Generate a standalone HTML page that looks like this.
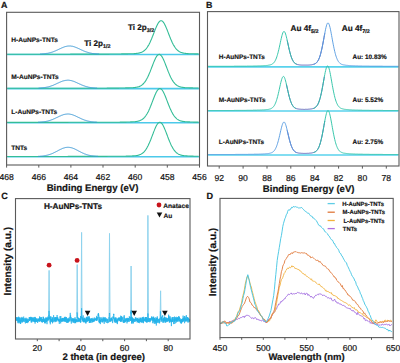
<!DOCTYPE html>
<html><head><meta charset="utf-8"><style>
html,body{margin:0;padding:0;background:#fff;}
svg{display:block;}
svg text{font-family:"Liberation Sans",sans-serif;stroke:#141414;stroke-width:0.2px;text-rendering:geometricPrecision;}
svg text.s{stroke-width:0.16px;}
</style></head><body>
<svg width="400" height="363" viewBox="0 0 400 363">
<rect width="400" height="363" fill="#fff"/>
<line x1="7.2" y1="54.5" x2="198.9" y2="54.5" stroke="#4cc9ea" stroke-width="1.6"/>
<polyline fill="none" stroke="#34bd97" stroke-width="1.1" points="7.1,54.2 7.6,54.2 8.1,54.2 8.6,54.2 9.1,54.2 9.6,54.2 10.1,54.2 10.6,54.2 11.1,54.2 11.6,54.2 12.1,54.2 12.6,54.2 13.1,54.2 13.6,54.2 14.1,54.2 14.6,54.2 15.1,54.2 15.6,54.2 16.1,54.2 16.6,54.2 17.1,54.2 17.6,54.2 18.1,54.2 18.6,54.2 19.1,54.2 19.6,54.2 20.1,54.2 20.6,54.2 21.1,54.2 21.6,54.2 22.1,54.2 22.6,54.2 23.1,54.2 23.6,54.2 24.1,54.2 24.6,54.2 25.1,54.2 25.6,54.2 26.1,54.2 26.6,54.2 27.1,54.2 27.6,54.2 28.1,54.2 28.6,54.2 29.1,54.2 29.6,54.2 30.1,54.2 30.6,54.2 31.1,54.2 31.6,54.2 32.1,54.2 32.6,54.2 33.1,54.2 33.6,54.2 34.1,54.2 34.6,54.2 35.1,54.2 35.6,54.2 36.1,54.2 36.6,54.2 37.1,54.2 37.6,54.2 38.1,54.2 38.6,54.2 39.1,54.2 39.6,54.2 40.1,54.2 40.6,54.2 41.1,54.2 41.6,54.2 42.1,54.2 42.6,54.2 43.1,54.2 43.6,54.2 44.1,54.2 44.6,54.2 45.1,54.2 45.6,54.2 46.1,54.2 46.6,54.2 47.1,54.2 47.6,54.2 48.1,54.2 48.6,54.2 49.1,54.2 49.6,54.2 50.1,54.2 50.6,54.2 51.1,54.2 51.6,54.2 52.1,54.2 52.6,54.2 53.1,54.2 53.6,54.2 54.1,54.2 54.6,54.2 55.1,54.2 55.6,54.2 56.1,54.2 56.6,54.2 57.1,54.2 57.6,54.2 58.1,54.2 58.6,54.2 59.1,54.2 59.6,54.2 60.1,54.2 60.6,54.2 61.1,54.2 61.6,54.2 62.1,54.2 62.6,54.2 63.1,54.2 63.6,54.2 64.1,54.2 64.6,54.2 65.1,54.2 65.6,54.2 66.1,54.2 66.6,54.2 67.1,54.2 67.6,54.2 68.1,54.2 68.6,54.2 69.1,54.2 69.6,54.2 70.1,54.2 70.6,54.1 71.1,54.1 71.6,54.1 72.1,54.1 72.6,54.1 73.1,54.1 73.6,54.1 74.1,54.1 74.6,54.1 75.1,54.1 75.6,54.1 76.1,54.1 76.6,54.1 77.1,54.1 77.6,54.1 78.1,54.1 78.6,54.1 79.1,54.1 79.6,54.1 80.1,54.1 80.6,54.1 81.1,54.1 81.6,54.1 82.1,54.1 82.6,54.1 83.1,54.1 83.6,54.1 84.1,54.1 84.6,54.1 85.1,54.1 85.6,54.1 86.1,54.1 86.6,54.1 87.1,54.1 87.6,54.1 88.1,54.1 88.6,54.1 89.1,54.1 89.6,54.1 90.1,54.1 90.6,54.1 91.1,54.1 91.6,54.1 92.1,54.1 92.6,54.1 93.1,54.1 93.6,54.1 94.1,54.1 94.6,54.1 95.1,54.1 95.6,54.1 96.1,54.1 96.6,54.1 97.1,54.1 97.6,54.1 98.1,54.1 98.6,54.1 99.1,54.1 99.6,54.1 100.1,54.1 100.6,54.1 101.1,54.1 101.6,54.1 102.1,54.1 102.6,54.1 103.1,54.1 103.6,54.1 104.1,54.1 104.6,54.1 105.1,54.1 105.6,54.1 106.1,54.1 106.6,54.1 107.1,54.1 107.6,54.1 108.1,54.1 108.6,54.1 109.1,54.1 109.6,54 110.1,54 110.6,54 111.1,54 111.6,54 112.1,54 112.6,54 113.1,54 113.6,54 114.1,54 114.6,54 115.1,54 115.6,54 116.1,54 116.6,54 117.1,54 117.6,54 118.1,54 118.6,54 119.1,54 119.6,54 120.1,54 120.6,54 121.1,54 121.6,53.9 122.1,53.9 122.6,53.9 123.1,53.9 123.6,53.9 124.1,53.9 124.6,53.9 125.1,53.9 125.6,53.9 126.1,53.9 126.6,53.9 127.1,53.9 127.6,53.9 128.1,53.8 128.6,53.8 129.1,53.8 129.6,53.8 130.1,53.8 130.6,53.8 131.1,53.8 131.6,53.7 132.1,53.7 132.6,53.7 133.1,53.7 133.6,53.7 134.1,53.6 134.6,53.6 135.1,53.6 135.6,53.5 136.1,53.5 136.6,53.4 137.1,53.4 137.6,53.3 138.1,53.2 138.6,53.1 139.1,53 139.6,52.9 140.1,52.8 140.6,52.6 141.1,52.4 141.6,52.2 142.1,52 142.6,51.7 143.1,51.5 143.6,51.1 144.1,50.7 144.6,50.3 145.1,49.9 145.6,49.3 146.1,48.8 146.6,48.2 147.1,47.5 147.6,46.7 148.1,45.9 148.6,45.1 149.1,44.2 149.6,43.2 150.1,42.2 150.6,41.1 151.1,39.9 151.6,38.8 152.1,37.5 152.6,36.3 153.1,35 153.6,33.7 154.1,32.4 154.6,31.1 155.1,29.8 155.6,28.6 156.1,27.4 156.6,26.3 157.1,25.2 157.6,24.2 158.1,23.3 158.6,22.6 159.1,21.9 159.6,21.4 160.1,21 160.6,20.8 161.1,20.7 161.6,20.8 162.1,21 162.6,21.4 163.1,21.9 163.6,22.6 164.1,23.3 164.6,24.2 165.1,25.2 165.6,26.3 166.1,27.4 166.6,28.6 167.1,29.8 167.6,31.1 168.1,32.4 168.6,33.7 169.1,35 169.6,36.3 170.1,37.5 170.6,38.8 171.1,39.9 171.6,41.1 172.1,42.2 172.6,43.2 173.1,44.2 173.6,45.1 174.1,45.9 174.6,46.7 175.1,47.5 175.6,48.2 176.1,48.8 176.6,49.3 177.1,49.9 177.6,50.3 178.1,50.7 178.6,51.1 179.1,51.5 179.6,51.7 180.1,52 180.6,52.2 181.1,52.4 181.6,52.6 182.1,52.8 182.6,52.9 183.1,53 183.6,53.1 184.1,53.2 184.6,53.3 185.1,53.4 185.6,53.4 186.1,53.5 186.6,53.5 187.1,53.6 187.6,53.6 188.1,53.6 188.6,53.7 189.1,53.7 189.6,53.7 190.1,53.7 190.6,53.7 191.1,53.8 191.6,53.8 192.1,53.8 192.6,53.8 193.1,53.8 193.6,53.8 194.1,53.8 194.6,53.9 195.1,53.9 195.6,53.9 196.1,53.9 196.6,53.9 197.1,53.9 197.6,53.9 198.1,53.9 198.6,53.9"/>
<polyline fill="none" stroke="#3d9ad6" stroke-width="1.0" points="40.1,54 40.6,54 41.1,54 41.6,54 42.1,53.9 42.6,53.9 43.1,53.9 43.6,53.8 44.1,53.8 44.6,53.7 45.1,53.6 45.6,53.6 46.1,53.5 46.6,53.4 47.1,53.4 47.6,53.3 48.1,53.2 48.6,53.1 49.1,53 49.6,52.8 50.1,52.7 50.6,52.6 51.1,52.4 51.6,52.3 52.1,52.1 52.6,52 53.1,51.8 53.6,51.6 54.1,51.4 54.6,51.2 55.1,51 55.6,50.8 56.1,50.6 56.6,50.3 57.1,50.1 57.6,49.9 58.1,49.7 58.6,49.4 59.1,49.2 59.6,48.9 60.1,48.7 60.6,48.5 61.1,48.2 61.6,48 62.1,47.8 62.6,47.6 63.1,47.4 63.6,47.2 64.1,47 64.6,46.8 65.1,46.7 65.6,46.5 66.1,46.4 66.6,46.3 67.1,46.2 67.6,46.1 68.1,46.1 68.6,46 69.1,46 69.6,46 70.1,46 70.6,46 71.1,46.1 71.6,46.2 72.1,46.2 72.6,46.3 73.1,46.5 73.6,46.6 74.1,46.8 74.6,46.9 75.1,47.1 75.6,47.3 76.1,47.5 76.6,47.7 77.1,47.9 77.6,48.1 78.1,48.3 78.6,48.6 79.1,48.8 79.6,49 80.1,49.3 80.6,49.5 81.1,49.7 81.6,50 82.1,50.2 82.6,50.4 83.1,50.7 83.6,50.9 84.1,51.1 84.6,51.3 85.1,51.5 85.6,51.7 86.1,51.8 86.6,52 87.1,52.2 87.6,52.3 88.1,52.5 88.6,52.6 89.1,52.8 89.6,52.9 90.1,53 90.6,53.1 91.1,53.2 91.6,53.3 92.1,53.4 92.6,53.5 93.1,53.5 93.6,53.6 94.1,53.7 94.6,53.7 95.1,53.8 95.6,53.8 96.1,53.9 96.6,53.9 97.1,53.9 97.6,54 98.1,54 98.6,54 99.1,54"/>
<line x1="7.2" y1="88.6" x2="198.9" y2="88.6" stroke="#4cc9ea" stroke-width="1.6"/>
<polyline fill="none" stroke="#34bd97" stroke-width="1.1" points="7.1,88.3 7.6,88.3 8.1,88.3 8.6,88.3 9.1,88.3 9.6,88.3 10.1,88.3 10.6,88.3 11.1,88.3 11.6,88.3 12.1,88.3 12.6,88.3 13.1,88.3 13.6,88.3 14.1,88.3 14.6,88.3 15.1,88.3 15.6,88.3 16.1,88.3 16.6,88.3 17.1,88.3 17.6,88.3 18.1,88.3 18.6,88.3 19.1,88.3 19.6,88.3 20.1,88.3 20.6,88.3 21.1,88.3 21.6,88.3 22.1,88.3 22.6,88.3 23.1,88.3 23.6,88.3 24.1,88.3 24.6,88.3 25.1,88.3 25.6,88.3 26.1,88.3 26.6,88.3 27.1,88.3 27.6,88.3 28.1,88.3 28.6,88.3 29.1,88.3 29.6,88.3 30.1,88.3 30.6,88.3 31.1,88.3 31.6,88.3 32.1,88.3 32.6,88.3 33.1,88.3 33.6,88.3 34.1,88.3 34.6,88.3 35.1,88.3 35.6,88.3 36.1,88.3 36.6,88.3 37.1,88.3 37.6,88.3 38.1,88.3 38.6,88.3 39.1,88.3 39.6,88.3 40.1,88.3 40.6,88.3 41.1,88.3 41.6,88.3 42.1,88.3 42.6,88.3 43.1,88.3 43.6,88.3 44.1,88.3 44.6,88.3 45.1,88.3 45.6,88.3 46.1,88.3 46.6,88.3 47.1,88.3 47.6,88.3 48.1,88.3 48.6,88.3 49.1,88.3 49.6,88.3 50.1,88.3 50.6,88.3 51.1,88.3 51.6,88.3 52.1,88.3 52.6,88.3 53.1,88.3 53.6,88.3 54.1,88.3 54.6,88.3 55.1,88.3 55.6,88.3 56.1,88.3 56.6,88.3 57.1,88.3 57.6,88.3 58.1,88.3 58.6,88.3 59.1,88.3 59.6,88.3 60.1,88.3 60.6,88.3 61.1,88.3 61.6,88.3 62.1,88.3 62.6,88.3 63.1,88.3 63.6,88.3 64.1,88.3 64.6,88.3 65.1,88.3 65.6,88.3 66.1,88.3 66.6,88.3 67.1,88.3 67.6,88.3 68.1,88.2 68.6,88.2 69.1,88.2 69.6,88.2 70.1,88.2 70.6,88.2 71.1,88.2 71.6,88.2 72.1,88.2 72.6,88.2 73.1,88.2 73.6,88.2 74.1,88.2 74.6,88.2 75.1,88.2 75.6,88.2 76.1,88.2 76.6,88.2 77.1,88.2 77.6,88.2 78.1,88.2 78.6,88.2 79.1,88.2 79.6,88.2 80.1,88.2 80.6,88.2 81.1,88.2 81.6,88.2 82.1,88.2 82.6,88.2 83.1,88.2 83.6,88.2 84.1,88.2 84.6,88.2 85.1,88.2 85.6,88.2 86.1,88.2 86.6,88.2 87.1,88.2 87.6,88.2 88.1,88.2 88.6,88.2 89.1,88.2 89.6,88.2 90.1,88.2 90.6,88.2 91.1,88.2 91.6,88.2 92.1,88.2 92.6,88.2 93.1,88.2 93.6,88.2 94.1,88.2 94.6,88.2 95.1,88.2 95.6,88.2 96.1,88.2 96.6,88.2 97.1,88.2 97.6,88.2 98.1,88.2 98.6,88.2 99.1,88.2 99.6,88.2 100.1,88.2 100.6,88.2 101.1,88.2 101.6,88.2 102.1,88.2 102.6,88.2 103.1,88.2 103.6,88.2 104.1,88.2 104.6,88.2 105.1,88.2 105.6,88.2 106.1,88.2 106.6,88.2 107.1,88.1 107.6,88.1 108.1,88.1 108.6,88.1 109.1,88.1 109.6,88.1 110.1,88.1 110.6,88.1 111.1,88.1 111.6,88.1 112.1,88.1 112.6,88.1 113.1,88.1 113.6,88.1 114.1,88.1 114.6,88.1 115.1,88.1 115.6,88.1 116.1,88.1 116.6,88.1 117.1,88.1 117.6,88.1 118.1,88.1 118.6,88.1 119.1,88 119.6,88 120.1,88 120.6,88 121.1,88 121.6,88 122.1,88 122.6,88 123.1,88 123.6,88 124.1,88 124.6,88 125.1,88 125.6,87.9 126.1,87.9 126.6,87.9 127.1,87.9 127.6,87.9 128.1,87.9 128.6,87.9 129.1,87.9 129.6,87.8 130.1,87.8 130.6,87.8 131.1,87.8 131.6,87.8 132.1,87.7 132.6,87.7 133.1,87.7 133.6,87.6 134.1,87.6 134.6,87.5 135.1,87.5 135.6,87.4 136.1,87.3 136.6,87.2 137.1,87.1 137.6,87 138.1,86.9 138.6,86.7 139.1,86.6 139.6,86.4 140.1,86.1 140.6,85.9 141.1,85.6 141.6,85.3 142.1,84.9 142.6,84.5 143.1,84 143.6,83.5 144.1,82.9 144.6,82.3 145.1,81.6 145.6,80.9 146.1,80.1 146.6,79.3 147.1,78.3 147.6,77.4 148.1,76.3 148.6,75.2 149.1,74.1 149.6,72.9 150.1,71.7 150.6,70.4 151.1,69.1 151.6,67.8 152.1,66.5 152.6,65.2 153.1,63.9 153.6,62.6 154.1,61.4 154.6,60.3 155.1,59.2 155.6,58.1 156.1,57.2 156.6,56.4 157.1,55.7 157.6,55.2 158.1,54.8 158.6,54.5 159.1,54.4 159.6,54.4 160.1,54.7 160.6,55 161.1,55.5 161.6,56.1 162.1,56.9 162.6,57.8 163.1,58.7 163.6,59.8 164.1,60.9 164.6,62.1 165.1,63.4 165.6,64.7 166.1,66 166.6,67.3 167.1,68.6 167.6,69.9 168.1,71.2 168.6,72.4 169.1,73.6 169.6,74.8 170.1,75.9 170.6,77 171.1,78 171.6,78.9 172.1,79.8 172.6,80.6 173.1,81.4 173.6,82.1 174.1,82.7 174.6,83.3 175.1,83.8 175.6,84.3 176.1,84.7 176.6,85.1 177.1,85.5 177.6,85.8 178.1,86 178.6,86.3 179.1,86.5 179.6,86.7 180.1,86.8 180.6,87 181.1,87.1 181.6,87.2 182.1,87.3 182.6,87.4 183.1,87.4 183.6,87.5 184.1,87.6 184.6,87.6 185.1,87.7 185.6,87.7 186.1,87.7 186.6,87.7 187.1,87.8 187.6,87.8 188.1,87.8 188.6,87.8 189.1,87.9 189.6,87.9 190.1,87.9 190.6,87.9 191.1,87.9 191.6,87.9 192.1,87.9 192.6,87.9 193.1,88 193.6,88 194.1,88 194.6,88 195.1,88 195.6,88 196.1,88 196.6,88 197.1,88 197.6,88 198.1,88 198.6,88"/>
<polyline fill="none" stroke="#3d9ad6" stroke-width="1.0" points="38.6,88.1 39.1,88.1 39.6,88.1 40.1,88.1 40.6,88 41.1,88 41.6,87.9 42.1,87.9 42.6,87.8 43.1,87.8 43.6,87.7 44.1,87.7 44.6,87.6 45.1,87.5 45.6,87.4 46.1,87.3 46.6,87.2 47.1,87.1 47.6,87 48.1,86.9 48.6,86.8 49.1,86.6 49.6,86.5 50.1,86.3 50.6,86.2 51.1,86 51.6,85.8 52.1,85.7 52.6,85.5 53.1,85.3 53.6,85.1 54.1,84.8 54.6,84.6 55.1,84.4 55.6,84.2 56.1,83.9 56.6,83.7 57.1,83.5 57.6,83.2 58.1,83 58.6,82.8 59.1,82.6 59.6,82.3 60.1,82.1 60.6,81.9 61.1,81.7 61.6,81.5 62.1,81.3 62.6,81.1 63.1,81 63.6,80.8 64.1,80.7 64.6,80.6 65.1,80.5 65.6,80.4 66.1,80.3 66.6,80.3 67.1,80.2 67.6,80.2 68.1,80.2 68.6,80.2 69.1,80.3 69.6,80.3 70.1,80.4 70.6,80.5 71.1,80.6 71.6,80.7 72.1,80.9 72.6,81 73.1,81.2 73.6,81.3 74.1,81.5 74.6,81.7 75.1,81.9 75.6,82.2 76.1,82.4 76.6,82.6 77.1,82.8 77.6,83.1 78.1,83.3 78.6,83.5 79.1,83.8 79.6,84 80.1,84.2 80.6,84.4 81.1,84.7 81.6,84.9 82.1,85.1 82.6,85.3 83.1,85.5 83.6,85.7 84.1,85.9 84.6,86 85.1,86.2 85.6,86.4 86.1,86.5 86.6,86.7 87.1,86.8 87.6,86.9 88.1,87.1 88.6,87.2 89.1,87.3 89.6,87.4 90.1,87.5 90.6,87.5 91.1,87.6 91.6,87.7 92.1,87.7 92.6,87.8 93.1,87.9 93.6,87.9 94.1,87.9 94.6,88 95.1,88 95.6,88.1 96.1,88.1 96.6,88.1 97.1,88.1"/>
<line x1="7.2" y1="122.7" x2="198.9" y2="122.7" stroke="#4cc9ea" stroke-width="1.6"/>
<polyline fill="none" stroke="#34bd97" stroke-width="1.1" points="7.1,122.4 7.6,122.4 8.1,122.4 8.6,122.4 9.1,122.4 9.6,122.4 10.1,122.4 10.6,122.4 11.1,122.4 11.6,122.4 12.1,122.4 12.6,122.4 13.1,122.4 13.6,122.4 14.1,122.4 14.6,122.4 15.1,122.4 15.6,122.4 16.1,122.4 16.6,122.4 17.1,122.4 17.6,122.4 18.1,122.4 18.6,122.4 19.1,122.4 19.6,122.4 20.1,122.4 20.6,122.4 21.1,122.4 21.6,122.4 22.1,122.4 22.6,122.4 23.1,122.4 23.6,122.4 24.1,122.4 24.6,122.4 25.1,122.4 25.6,122.4 26.1,122.4 26.6,122.4 27.1,122.4 27.6,122.4 28.1,122.4 28.6,122.4 29.1,122.4 29.6,122.4 30.1,122.4 30.6,122.4 31.1,122.4 31.6,122.4 32.1,122.4 32.6,122.4 33.1,122.4 33.6,122.4 34.1,122.4 34.6,122.4 35.1,122.4 35.6,122.4 36.1,122.4 36.6,122.4 37.1,122.4 37.6,122.4 38.1,122.4 38.6,122.4 39.1,122.4 39.6,122.4 40.1,122.4 40.6,122.4 41.1,122.4 41.6,122.4 42.1,122.4 42.6,122.4 43.1,122.4 43.6,122.4 44.1,122.4 44.6,122.4 45.1,122.4 45.6,122.4 46.1,122.4 46.6,122.4 47.1,122.4 47.6,122.4 48.1,122.4 48.6,122.4 49.1,122.4 49.6,122.4 50.1,122.4 50.6,122.4 51.1,122.4 51.6,122.4 52.1,122.4 52.6,122.4 53.1,122.4 53.6,122.4 54.1,122.4 54.6,122.4 55.1,122.4 55.6,122.4 56.1,122.4 56.6,122.4 57.1,122.4 57.6,122.4 58.1,122.4 58.6,122.4 59.1,122.4 59.6,122.4 60.1,122.4 60.6,122.4 61.1,122.4 61.6,122.4 62.1,122.4 62.6,122.4 63.1,122.4 63.6,122.4 64.1,122.4 64.6,122.4 65.1,122.4 65.6,122.4 66.1,122.4 66.6,122.4 67.1,122.4 67.6,122.4 68.1,122.4 68.6,122.3 69.1,122.3 69.6,122.3 70.1,122.3 70.6,122.3 71.1,122.3 71.6,122.3 72.1,122.3 72.6,122.3 73.1,122.3 73.6,122.3 74.1,122.3 74.6,122.3 75.1,122.3 75.6,122.3 76.1,122.3 76.6,122.3 77.1,122.3 77.6,122.3 78.1,122.3 78.6,122.3 79.1,122.3 79.6,122.3 80.1,122.3 80.6,122.3 81.1,122.3 81.6,122.3 82.1,122.3 82.6,122.3 83.1,122.3 83.6,122.3 84.1,122.3 84.6,122.3 85.1,122.3 85.6,122.3 86.1,122.3 86.6,122.3 87.1,122.3 87.6,122.3 88.1,122.3 88.6,122.3 89.1,122.3 89.6,122.3 90.1,122.3 90.6,122.3 91.1,122.3 91.6,122.3 92.1,122.3 92.6,122.3 93.1,122.3 93.6,122.3 94.1,122.3 94.6,122.3 95.1,122.3 95.6,122.3 96.1,122.3 96.6,122.3 97.1,122.3 97.6,122.3 98.1,122.3 98.6,122.3 99.1,122.3 99.6,122.3 100.1,122.3 100.6,122.3 101.1,122.3 101.6,122.3 102.1,122.3 102.6,122.3 103.1,122.3 103.6,122.3 104.1,122.3 104.6,122.3 105.1,122.3 105.6,122.3 106.1,122.3 106.6,122.3 107.1,122.3 107.6,122.2 108.1,122.2 108.6,122.2 109.1,122.2 109.6,122.2 110.1,122.2 110.6,122.2 111.1,122.2 111.6,122.2 112.1,122.2 112.6,122.2 113.1,122.2 113.6,122.2 114.1,122.2 114.6,122.2 115.1,122.2 115.6,122.2 116.1,122.2 116.6,122.2 117.1,122.2 117.6,122.2 118.1,122.2 118.6,122.2 119.1,122.2 119.6,122.2 120.1,122.1 120.6,122.1 121.1,122.1 121.6,122.1 122.1,122.1 122.6,122.1 123.1,122.1 123.6,122.1 124.1,122.1 124.6,122.1 125.1,122.1 125.6,122.1 126.1,122.1 126.6,122 127.1,122 127.6,122 128.1,122 128.6,122 129.1,122 129.6,122 130.1,122 130.6,121.9 131.1,121.9 131.6,121.9 132.1,121.9 132.6,121.8 133.1,121.8 133.6,121.8 134.1,121.7 134.6,121.7 135.1,121.7 135.6,121.6 136.1,121.5 136.6,121.5 137.1,121.4 137.6,121.3 138.1,121.2 138.6,121 139.1,120.9 139.6,120.7 140.1,120.5 140.6,120.3 141.1,120.1 141.6,119.8 142.1,119.5 142.6,119.1 143.1,118.7 143.6,118.3 144.1,117.8 144.6,117.3 145.1,116.7 145.6,116 146.1,115.3 146.6,114.5 147.1,113.7 147.6,112.8 148.1,111.9 148.6,110.9 149.1,109.8 149.6,108.7 150.1,107.5 150.6,106.3 151.1,105 151.6,103.7 152.1,102.4 152.6,101.1 153.1,99.8 153.6,98.5 154.1,97.2 154.6,96 155.1,94.8 155.6,93.7 156.1,92.6 156.6,91.7 157.1,90.8 157.6,90.1 158.1,89.5 158.6,89 159.1,88.7 159.6,88.5 160.1,88.5 160.6,88.7 161.1,88.9 161.6,89.4 162.1,90 162.6,90.7 163.1,91.5 163.6,92.4 164.1,93.5 164.6,94.6 165.1,95.8 165.6,97 166.1,98.3 166.6,99.6 167.1,100.9 167.6,102.2 168.1,103.5 168.6,104.8 169.1,106 169.6,107.3 170.1,108.4 170.6,109.6 171.1,110.6 171.6,111.7 172.1,112.6 172.6,113.5 173.1,114.4 173.6,115.2 174.1,115.9 174.6,116.5 175.1,117.2 175.6,117.7 176.1,118.2 176.6,118.7 177.1,119.1 177.6,119.4 178.1,119.7 178.6,120 179.1,120.3 179.6,120.5 180.1,120.7 180.6,120.9 181.1,121 181.6,121.1 182.1,121.3 182.6,121.4 183.1,121.4 183.6,121.5 184.1,121.6 184.6,121.6 185.1,121.7 185.6,121.7 186.1,121.8 186.6,121.8 187.1,121.8 187.6,121.9 188.1,121.9 188.6,121.9 189.1,121.9 189.6,121.9 190.1,122 190.6,122 191.1,122 191.6,122 192.1,122 192.6,122 193.1,122 193.6,122.1 194.1,122.1 194.6,122.1 195.1,122.1 195.6,122.1 196.1,122.1 196.6,122.1 197.1,122.1 197.6,122.1 198.1,122.1 198.6,122.1"/>
<polyline fill="none" stroke="#3d9ad6" stroke-width="1.0" points="38.1,122.2 38.6,122.2 39.1,122.2 39.6,122.2 40.1,122.1 40.6,122.1 41.1,122.1 41.6,122 42.1,122 42.6,121.9 43.1,121.9 43.6,121.8 44.1,121.7 44.6,121.7 45.1,121.6 45.6,121.5 46.1,121.4 46.6,121.3 47.1,121.2 47.6,121.1 48.1,121 48.6,120.8 49.1,120.7 49.6,120.5 50.1,120.4 50.6,120.2 51.1,120 51.6,119.8 52.1,119.7 52.6,119.5 53.1,119.2 53.6,119 54.1,118.8 54.6,118.6 55.1,118.4 55.6,118.1 56.1,117.9 56.6,117.6 57.1,117.4 57.6,117.2 58.1,116.9 58.6,116.7 59.1,116.4 59.6,116.2 60.1,116 60.6,115.8 61.1,115.5 61.6,115.3 62.1,115.2 62.6,115 63.1,114.8 63.6,114.6 64.1,114.5 64.6,114.4 65.1,114.3 65.6,114.2 66.1,114.1 66.6,114.1 67.1,114 67.6,114 68.1,114 68.6,114 69.1,114.1 69.6,114.1 70.1,114.2 70.6,114.3 71.1,114.4 71.6,114.5 72.1,114.7 72.6,114.8 73.1,115 73.6,115.2 74.1,115.4 74.6,115.6 75.1,115.8 75.6,116 76.1,116.3 76.6,116.5 77.1,116.7 77.6,117 78.1,117.2 78.6,117.5 79.1,117.7 79.6,117.9 80.1,118.2 80.6,118.4 81.1,118.6 81.6,118.9 82.1,119.1 82.6,119.3 83.1,119.5 83.6,119.7 84.1,119.9 84.6,120.1 85.1,120.2 85.6,120.4 86.1,120.6 86.6,120.7 87.1,120.8 87.6,121 88.1,121.1 88.6,121.2 89.1,121.3 89.6,121.4 90.1,121.5 90.6,121.6 91.1,121.7 91.6,121.8 92.1,121.8 92.6,121.9 93.1,121.9 93.6,122 94.1,122 94.6,122.1 95.1,122.1 95.6,122.1 96.1,122.2 96.6,122.2 97.1,122.2"/>
<line x1="7.2" y1="156.8" x2="198.9" y2="156.8" stroke="#4cc9ea" stroke-width="1.6"/>
<polyline fill="none" stroke="#34bd97" stroke-width="1.1" points="7.1,156.5 7.6,156.5 8.1,156.5 8.6,156.5 9.1,156.5 9.6,156.5 10.1,156.5 10.6,156.5 11.1,156.5 11.6,156.5 12.1,156.5 12.6,156.5 13.1,156.5 13.6,156.5 14.1,156.5 14.6,156.5 15.1,156.5 15.6,156.5 16.1,156.5 16.6,156.5 17.1,156.5 17.6,156.5 18.1,156.5 18.6,156.5 19.1,156.5 19.6,156.5 20.1,156.5 20.6,156.5 21.1,156.5 21.6,156.5 22.1,156.5 22.6,156.5 23.1,156.5 23.6,156.5 24.1,156.5 24.6,156.5 25.1,156.5 25.6,156.5 26.1,156.5 26.6,156.5 27.1,156.5 27.6,156.5 28.1,156.5 28.6,156.5 29.1,156.5 29.6,156.5 30.1,156.5 30.6,156.5 31.1,156.5 31.6,156.5 32.1,156.5 32.6,156.5 33.1,156.5 33.6,156.5 34.1,156.5 34.6,156.5 35.1,156.5 35.6,156.5 36.1,156.5 36.6,156.5 37.1,156.5 37.6,156.5 38.1,156.5 38.6,156.5 39.1,156.5 39.6,156.5 40.1,156.5 40.6,156.5 41.1,156.5 41.6,156.5 42.1,156.5 42.6,156.5 43.1,156.5 43.6,156.5 44.1,156.5 44.6,156.5 45.1,156.5 45.6,156.5 46.1,156.5 46.6,156.5 47.1,156.5 47.6,156.5 48.1,156.5 48.6,156.5 49.1,156.5 49.6,156.5 50.1,156.5 50.6,156.5 51.1,156.5 51.6,156.5 52.1,156.5 52.6,156.5 53.1,156.5 53.6,156.5 54.1,156.5 54.6,156.5 55.1,156.5 55.6,156.5 56.1,156.5 56.6,156.5 57.1,156.5 57.6,156.5 58.1,156.5 58.6,156.5 59.1,156.5 59.6,156.5 60.1,156.5 60.6,156.5 61.1,156.5 61.6,156.5 62.1,156.5 62.6,156.5 63.1,156.5 63.6,156.5 64.1,156.5 64.6,156.5 65.1,156.5 65.6,156.5 66.1,156.5 66.6,156.5 67.1,156.5 67.6,156.5 68.1,156.4 68.6,156.4 69.1,156.4 69.6,156.4 70.1,156.4 70.6,156.4 71.1,156.4 71.6,156.4 72.1,156.4 72.6,156.4 73.1,156.4 73.6,156.4 74.1,156.4 74.6,156.4 75.1,156.4 75.6,156.4 76.1,156.4 76.6,156.4 77.1,156.4 77.6,156.4 78.1,156.4 78.6,156.4 79.1,156.4 79.6,156.4 80.1,156.4 80.6,156.4 81.1,156.4 81.6,156.4 82.1,156.4 82.6,156.4 83.1,156.4 83.6,156.4 84.1,156.4 84.6,156.4 85.1,156.4 85.6,156.4 86.1,156.4 86.6,156.4 87.1,156.4 87.6,156.4 88.1,156.4 88.6,156.4 89.1,156.4 89.6,156.4 90.1,156.4 90.6,156.4 91.1,156.4 91.6,156.4 92.1,156.4 92.6,156.4 93.1,156.4 93.6,156.4 94.1,156.4 94.6,156.4 95.1,156.4 95.6,156.4 96.1,156.4 96.6,156.4 97.1,156.4 97.6,156.4 98.1,156.4 98.6,156.4 99.1,156.4 99.6,156.4 100.1,156.4 100.6,156.4 101.1,156.4 101.6,156.4 102.1,156.4 102.6,156.4 103.1,156.4 103.6,156.4 104.1,156.4 104.6,156.4 105.1,156.4 105.6,156.4 106.1,156.4 106.6,156.4 107.1,156.4 107.6,156.3 108.1,156.3 108.6,156.3 109.1,156.3 109.6,156.3 110.1,156.3 110.6,156.3 111.1,156.3 111.6,156.3 112.1,156.3 112.6,156.3 113.1,156.3 113.6,156.3 114.1,156.3 114.6,156.3 115.1,156.3 115.6,156.3 116.1,156.3 116.6,156.3 117.1,156.3 117.6,156.3 118.1,156.3 118.6,156.3 119.1,156.3 119.6,156.2 120.1,156.2 120.6,156.2 121.1,156.2 121.6,156.2 122.1,156.2 122.6,156.2 123.1,156.2 123.6,156.2 124.1,156.2 124.6,156.2 125.1,156.2 125.6,156.2 126.1,156.1 126.6,156.1 127.1,156.1 127.6,156.1 128.1,156.1 128.6,156.1 129.1,156.1 129.6,156.1 130.1,156 130.6,156 131.1,156 131.6,156 132.1,156 132.6,155.9 133.1,155.9 133.6,155.9 134.1,155.8 134.6,155.8 135.1,155.7 135.6,155.7 136.1,155.6 136.6,155.5 137.1,155.5 137.6,155.4 138.1,155.2 138.6,155.1 139.1,155 139.6,154.8 140.1,154.6 140.6,154.4 141.1,154.1 141.6,153.8 142.1,153.5 142.6,153.1 143.1,152.7 143.6,152.3 144.1,151.8 144.6,151.2 145.1,150.6 145.6,149.9 146.1,149.2 146.6,148.4 147.1,147.6 147.6,146.6 148.1,145.7 148.6,144.6 149.1,143.6 149.6,142.4 150.1,141.2 150.6,140 151.1,138.7 151.6,137.4 152.1,136.1 152.6,134.8 153.1,133.5 153.6,132.1 154.1,130.9 154.6,129.6 155.1,128.4 155.6,127.3 156.1,126.3 156.6,125.3 157.1,124.5 157.6,123.8 158.1,123.2 158.6,122.7 159.1,122.5 159.6,122.3 160.1,122.3 160.6,122.5 161.1,122.8 161.6,123.3 162.1,123.9 162.6,124.6 163.1,125.5 163.6,126.5 164.1,127.5 164.6,128.7 165.1,129.9 165.6,131.1 166.1,132.4 166.6,133.7 167.1,135 167.6,136.4 168.1,137.7 168.6,139 169.1,140.2 169.6,141.5 170.1,142.6 170.6,143.8 171.1,144.9 171.6,145.9 172.1,146.8 172.6,147.7 173.1,148.6 173.6,149.3 174.1,150.1 174.6,150.7 175.1,151.3 175.6,151.9 176.1,152.4 176.6,152.8 177.1,153.2 177.6,153.6 178.1,153.9 178.6,154.2 179.1,154.4 179.6,154.6 180.1,154.8 180.6,155 181.1,155.1 181.6,155.3 182.1,155.4 182.6,155.5 183.1,155.6 183.6,155.6 184.1,155.7 184.6,155.7 185.1,155.8 185.6,155.8 186.1,155.9 186.6,155.9 187.1,155.9 187.6,156 188.1,156 188.6,156 189.1,156 189.6,156 190.1,156.1 190.6,156.1 191.1,156.1 191.6,156.1 192.1,156.1 192.6,156.1 193.1,156.1 193.6,156.2 194.1,156.2 194.6,156.2 195.1,156.2 195.6,156.2 196.1,156.2 196.6,156.2 197.1,156.2 197.6,156.2 198.1,156.2 198.6,156.2"/>
<polyline fill="none" stroke="#3d9ad6" stroke-width="1.0" points="38.1,156.3 38.6,156.3 39.1,156.3 39.6,156.3 40.1,156.2 40.6,156.2 41.1,156.2 41.6,156.1 42.1,156.1 42.6,156 43.1,155.9 43.6,155.9 44.1,155.8 44.6,155.7 45.1,155.6 45.6,155.6 46.1,155.5 46.6,155.3 47.1,155.2 47.6,155.1 48.1,155 48.6,154.8 49.1,154.7 49.6,154.5 50.1,154.3 50.6,154.2 51.1,154 51.6,153.8 52.1,153.6 52.6,153.4 53.1,153.1 53.6,152.9 54.1,152.7 54.6,152.4 55.1,152.2 55.6,151.9 56.1,151.7 56.6,151.4 57.1,151.1 57.6,150.9 58.1,150.6 58.6,150.3 59.1,150.1 59.6,149.8 60.1,149.6 60.6,149.3 61.1,149.1 61.6,148.9 62.1,148.6 62.6,148.4 63.1,148.2 63.6,148.1 64.1,147.9 64.6,147.8 65.1,147.6 65.6,147.5 66.1,147.4 66.6,147.4 67.1,147.3 67.6,147.3 68.1,147.3 68.6,147.3 69.1,147.4 69.6,147.4 70.1,147.5 70.6,147.6 71.1,147.7 71.6,147.8 72.1,148 72.6,148.1 73.1,148.3 73.6,148.5 74.1,148.7 74.6,148.9 75.1,149.2 75.6,149.4 76.1,149.7 76.6,149.9 77.1,150.2 77.6,150.4 78.1,150.7 78.6,151 79.1,151.2 79.6,151.5 80.1,151.8 80.6,152 81.1,152.3 81.6,152.5 82.1,152.8 82.6,153 83.1,153.2 83.6,153.4 84.1,153.7 84.6,153.9 85.1,154.1 85.6,154.2 86.1,154.4 86.6,154.6 87.1,154.7 87.6,154.9 88.1,155 88.6,155.2 89.1,155.3 89.6,155.4 90.1,155.5 90.6,155.6 91.1,155.7 91.6,155.8 92.1,155.8 92.6,155.9 93.1,156 93.6,156 94.1,156.1 94.6,156.1 95.1,156.2 95.6,156.2 96.1,156.2 96.6,156.3 97.1,156.3 97.6,156.3 98.1,156.3"/>
<rect x="6.6" y="12.3" width="192.9" height="152.7" fill="none" stroke="#5a5a5a" stroke-width="1.1"/>
<line x1="6.6" y1="165" x2="6.6" y2="167.6" stroke="#5a5a5a" stroke-width="1"/>
<text x="6.6" y="179.8" font-size="8.6" text-anchor="middle" fill="#141414">468</text>
<line x1="38.8" y1="165" x2="38.8" y2="167.6" stroke="#5a5a5a" stroke-width="1"/>
<text x="38.8" y="179.8" font-size="8.6" text-anchor="middle" fill="#141414">466</text>
<line x1="70.9" y1="165" x2="70.9" y2="167.6" stroke="#5a5a5a" stroke-width="1"/>
<text x="70.9" y="179.8" font-size="8.6" text-anchor="middle" fill="#141414">464</text>
<line x1="103" y1="165" x2="103" y2="167.6" stroke="#5a5a5a" stroke-width="1"/>
<text x="103" y="179.8" font-size="8.6" text-anchor="middle" fill="#141414">462</text>
<line x1="135.2" y1="165" x2="135.2" y2="167.6" stroke="#5a5a5a" stroke-width="1"/>
<text x="135.2" y="179.8" font-size="8.6" text-anchor="middle" fill="#141414">460</text>
<line x1="167.3" y1="165" x2="167.3" y2="167.6" stroke="#5a5a5a" stroke-width="1"/>
<text x="167.3" y="179.8" font-size="8.6" text-anchor="middle" fill="#141414">458</text>
<line x1="199.5" y1="165" x2="199.5" y2="167.6" stroke="#5a5a5a" stroke-width="1"/>
<text x="199.5" y="179.8" font-size="8.6" text-anchor="middle" fill="#141414">456</text>
<text x="92.5" y="191" font-size="9.6" font-weight="bold" text-anchor="middle" fill="#141414">Binding Energy (eV)</text>
<text x="11.2" y="42.2" class="s" font-size="6.6" font-weight="bold" fill="#141414">H-AuNPs-TNTs</text>
<text x="11.2" y="78.8" class="s" font-size="6.6" font-weight="bold" fill="#141414">M-AuNPs-TNTs</text>
<text x="11.2" y="113.8" class="s" font-size="6.6" font-weight="bold" fill="#141414">L-AuNPs-TNTs</text>
<text x="11.2" y="150" class="s" font-size="6.6" font-weight="bold" fill="#141414">TNTs</text>
<text x="128" y="30.1" font-size="8.1" font-weight="bold" fill="#141414">Ti 2p<tspan font-size="5.4" dy="1.5">3/2</tspan></text>
<text x="84.3" y="46.2" font-size="8.1" font-weight="bold" fill="#141414">Ti 2p<tspan font-size="5.4" dy="1.5">1/2</tspan></text>
<text x="1.1" y="7.7" font-size="8.9" font-weight="bold" fill="#141414">A</text>
<line x1="208.1" y1="66.8" x2="398.4" y2="66.8" stroke="#58d2ec" stroke-width="1.7"/>
<polyline fill="none" stroke="#5a62b8" stroke-width="1.0" points="287.2,40.4 287.6,42.2 288,44.1 288.4,45.9 288.8,47.7 289.2,49.5 289.6,51.1 290,52.7 290.4,54.2 290.8,55.5 291.2,56.7 291.6,57.9 292,58.8 292.4,59.7 292.8,60.5 293.2,61.2 293.6,61.8 294,62.3 294.4,62.8 294.8,63.1 295.2,63.5 295.6,63.7 296,63.9 296.4,64.1 296.8,64.3 297.2,64.4 297.6,64.6 298,64.6 298.4,64.7 298.8,64.8 299.2,64.9 299.6,64.9 300,64.9 300.4,65 300.8,65 301.2,65 301.6,65.1 302,65.1 302.4,65.1 302.8,65.1 303.2,65.1 303.6,65.1 304,65.1 304.4,65.1 304.8,65.1 305.2,65.1 305.6,65.1 306,65.1 306.4,65.1 306.8,65.1 307.2,65.1 307.6,65.1 308,65.1 308.4,65.1 308.8,65 309.2,65 309.6,65 310,64.9 310.4,64.9 310.8,64.9 311.2,64.8 311.6,64.8 312,64.7 312.4,64.6 312.8,64.5 313.2,64.4 313.6,64.3 314,64.2 314.4,64 314.8,63.9 315.2,63.7 315.6,63.4 316,63.1 316.4,62.8 316.8,62.4 317.2,61.9 317.6,61.3 318,60.7 318.4,60 318.8,59.2 319.2,58.2 319.6,57.2 320,56 320.4,54.7 320.8,53.2 321.2,51.6 321.6,49.9 322,48.1 322.4,46.2 322.8,44.1 323.2,42 323.6,39.8 324,37.6 324.4,35.4 324.8,33.3"/>
<polyline fill="none" stroke="#2fc4a8" stroke-width="0.95" points="208,66.3 208.4,66.3 208.8,66.3 209.2,66.3 209.6,66.3 210,66.3 210.4,66.3 210.8,66.3 211.2,66.3 211.6,66.3 212,66.3 212.4,66.3 212.8,66.3 213.2,66.3 213.6,66.3 214,66.3 214.4,66.3 214.8,66.3 215.2,66.3 215.6,66.3 216,66.3 216.4,66.3 216.8,66.3 217.2,66.3 217.6,66.3 218,66.3 218.4,66.3 218.8,66.3 219.2,66.3 219.6,66.3 220,66.3 220.4,66.3 220.8,66.3 221.2,66.3 221.6,66.3 222,66.3 222.4,66.3 222.8,66.3 223.2,66.3 223.6,66.3 224,66.3 224.4,66.3 224.8,66.3 225.2,66.3 225.6,66.3 226,66.3 226.4,66.3 226.8,66.3 227.2,66.3 227.6,66.3 228,66.3 228.4,66.3 228.8,66.3 229.2,66.3 229.6,66.3 230,66.3 230.4,66.3 230.8,66.3 231.2,66.3 231.6,66.3 232,66.3 232.4,66.3 232.8,66.3 233.2,66.3 233.6,66.3 234,66.3 234.4,66.2 234.8,66.2 235.2,66.2 235.6,66.2 236,66.2 236.4,66.2 236.8,66.2 237.2,66.2 237.6,66.2 238,66.2 238.4,66.2 238.8,66.2 239.2,66.2 239.6,66.2 240,66.2 240.4,66.2 240.8,66.2 241.2,66.2 241.6,66.2 242,66.2 242.4,66.2 242.8,66.2 243.2,66.2 243.6,66.2 244,66.2 244.4,66.2 244.8,66.2 245.2,66.2 245.6,66.2 246,66.2 246.4,66.2 246.8,66.2 247.2,66.1 247.6,66.1 248,66.1 248.4,66.1 248.8,66.1 249.2,66.1 249.6,66.1 250,66.1 250.4,66.1 250.8,66.1 251.2,66.1 251.6,66.1 252,66.1 252.4,66.1 252.8,66.1 253.2,66.1 253.6,66 254,66 254.4,66 254.8,66 255.2,66 255.6,66 256,66 256.4,66 256.8,66 257.2,66 257.6,65.9 258,65.9 258.4,65.9 258.8,65.9 259.2,65.9 259.6,65.9 260,65.9 260.4,65.9 260.8,65.8 261.2,65.8 261.6,65.8 262,65.8 262.4,65.8 262.8,65.7 263.2,65.7 263.6,65.7 264,65.7 264.4,65.6 264.8,65.6 265.2,65.6 265.6,65.6 266,65.5 266.4,65.5 266.8,65.4 267.2,65.4 267.6,65.4 268,65.3 268.4,65.2 268.8,65.2 269.2,65.1 269.6,65 270,64.9 270.4,64.8 270.8,64.7 271.2,64.6 271.6,64.4 272,64.2 272.4,63.9 272.8,63.7 273.2,63.3 273.6,63 274,62.5 274.4,62 274.8,61.4 275.2,60.7 275.6,59.9 276,59 276.4,58 276.8,56.9 277.2,55.6 277.6,54.3 278,52.8 278.4,51.2 278.8,49.6 279.2,47.8 279.6,46 280,44.2 280.4,42.3 280.8,40.4 281.2,38.7 281.6,37 282,35.4 282.4,34.1 282.8,32.9 283.2,32.1 283.6,31.6 284,31.4 284.4,31.6 284.8,32.1 285.2,32.9 285.6,34 286,35.4 286.4,36.9 286.8,38.6 287.2,40.4 287.6,42.2 288,44.1 288.4,45.9 288.8,47.7 289.2,49.5 289.6,51.1 290,52.7 290.4,54.2 290.8,55.5 291.2,56.7 291.6,57.9 292,58.8 292.4,59.7 292.8,60.5 293.2,61.2 293.6,61.8 294,62.3 294.4,62.8 294.8,63.1 295.2,63.5 295.6,63.7 296,63.9 296.4,64.1 296.8,64.3"/>
<polyline fill="none" stroke="#5a9de2" stroke-width="0.95" points="313.6,64.3 314,64.2 314.4,64 314.8,63.9 315.2,63.7 315.6,63.4 316,63.1 316.4,62.8 316.8,62.4 317.2,61.9 317.6,61.3 318,60.7 318.4,60 318.8,59.2 319.2,58.2 319.6,57.2 320,56 320.4,54.7 320.8,53.2 321.2,51.6 321.6,49.9 322,48.1 322.4,46.2 322.8,44.1 323.2,42 323.6,39.8 324,37.6 324.4,35.4 324.8,33.3 325.2,31.2 325.6,29.2 326,27.4 326.4,25.9 326.8,24.6 327.2,23.6 327.6,23.1 328,22.9 328.4,23.1 328.8,23.7 329.2,24.6 329.6,25.9 330,27.4 330.4,29.2 330.8,31.2 331.2,33.3 331.6,35.5 332,37.7 332.4,39.9 332.8,42.1 333.2,44.2 333.6,46.2 334,48.2 334.4,50 334.8,51.7 335.2,53.3 335.6,54.8 336,56.1 336.4,57.3 336.8,58.3 337.2,59.3 337.6,60.1 338,60.8 338.4,61.5 338.8,62 339.2,62.5 339.6,62.9 340,63.3 340.4,63.6 340.8,63.8 341.2,64.1 341.6,64.3 342,64.4 342.4,64.6 342.8,64.7 343.2,64.8 343.6,64.9 344,65 344.4,65 344.8,65.1 345.2,65.2 345.6,65.2 346,65.3 346.4,65.3 346.8,65.4 347.2,65.4 347.6,65.4 348,65.5 348.4,65.5 348.8,65.5 349.2,65.6 349.6,65.6 350,65.6 350.4,65.6 350.8,65.7 351.2,65.7 351.6,65.7 352,65.7 352.4,65.7 352.8,65.8 353.2,65.8 353.6,65.8 354,65.8 354.4,65.8 354.8,65.8 355.2,65.9 355.6,65.9 356,65.9 356.4,65.9 356.8,65.9 357.2,65.9 357.6,65.9 358,66 358.4,66 358.8,66 359.2,66 359.6,66 360,66 360.4,66 360.8,66 361.2,66 361.6,66 362,66 362.4,66.1 362.8,66.1 363.2,66.1 363.6,66.1 364,66.1 364.4,66.1 364.8,66.1 365.2,66.1 365.6,66.1 366,66.1 366.4,66.1 366.8,66.1 367.2,66.1 367.6,66.1 368,66.1 368.4,66.1 368.8,66.1 369.2,66.1 369.6,66.2 370,66.2 370.4,66.2 370.8,66.2 371.2,66.2 371.6,66.2 372,66.2 372.4,66.2 372.8,66.2 373.2,66.2 373.6,66.2 374,66.2 374.4,66.2 374.8,66.2 375.2,66.2 375.6,66.2 376,66.2 376.4,66.2 376.8,66.2 377.2,66.2 377.6,66.2 378,66.2 378.4,66.2 378.8,66.2 379.2,66.2 379.6,66.2 380,66.2 380.4,66.2 380.8,66.2 381.2,66.2 381.6,66.2 382,66.2 382.4,66.2 382.8,66.3 383.2,66.3 383.6,66.3 384,66.3 384.4,66.3 384.8,66.3 385.2,66.3 385.6,66.3 386,66.3 386.4,66.3 386.8,66.3 387.2,66.3 387.6,66.3 388,66.3 388.4,66.3 388.8,66.3 389.2,66.3 389.6,66.3 390,66.3 390.4,66.3 390.8,66.3 391.2,66.3 391.6,66.3 392,66.3 392.4,66.3 392.8,66.3 393.2,66.3 393.6,66.3 394,66.3 394.4,66.3 394.8,66.3 395.2,66.3 395.6,66.3 396,66.3 396.4,66.3 396.8,66.3 397.2,66.3 397.6,66.3 398,66.3 398.4,66.3"/>
<line x1="208.1" y1="111" x2="398.4" y2="111" stroke="#58d2ec" stroke-width="1.7"/>
<polyline fill="none" stroke="#5a62b8" stroke-width="1.0" points="286.4,84.3 286.8,86.1 287.2,87.9 287.6,89.7 288,91.5 288.4,93.2 288.8,94.9 289.2,96.5 289.6,97.9 290,99.3 290.4,100.6 290.8,101.7 291.2,102.7 291.6,103.7 292,104.5 292.4,105.2 292.8,105.8 293.2,106.4 293.6,106.8 294,107.2 294.4,107.6 294.8,107.8 295.2,108.1 295.6,108.3 296,108.5 296.4,108.6 296.8,108.7 297.2,108.8 297.6,108.9 298,109 298.4,109 298.8,109.1 299.2,109.1 299.6,109.2 300,109.2 300.4,109.2 300.8,109.3 301.2,109.3 301.6,109.3 302,109.3 302.4,109.3 302.8,109.3 303.2,109.3 303.6,109.4 304,109.4 304.4,109.4 304.8,109.4 305.2,109.3 305.6,109.3 306,109.3 306.4,109.3 306.8,109.3 307.2,109.3 307.6,109.3 308,109.2 308.4,109.2 308.8,109.2 309.2,109.2 309.6,109.1 310,109.1 310.4,109 310.8,109 311.2,108.9 311.6,108.9 312,108.8 312.4,108.7 312.8,108.6 313.2,108.5 313.6,108.4 314,108.2 314.4,108 314.8,107.8 315.2,107.5 315.6,107.2 316,106.9 316.4,106.5 316.8,106 317.2,105.4 317.6,104.8 318,104 318.4,103.2 318.8,102.2 319.2,101.1 319.6,99.9 320,98.5 320.4,97.1 320.8,95.4 321.2,93.7 321.6,91.8 322,89.8 322.4,87.7 322.8,85.5 323.2,83.3 323.6,81 324,78.8 324.4,76.5"/>
<polyline fill="none" stroke="#2fc4a8" stroke-width="0.95" points="208,110.5 208.4,110.5 208.8,110.5 209.2,110.5 209.6,110.5 210,110.5 210.4,110.5 210.8,110.5 211.2,110.5 211.6,110.5 212,110.5 212.4,110.5 212.8,110.5 213.2,110.5 213.6,110.5 214,110.5 214.4,110.5 214.8,110.5 215.2,110.5 215.6,110.5 216,110.5 216.4,110.5 216.8,110.5 217.2,110.5 217.6,110.5 218,110.5 218.4,110.5 218.8,110.5 219.2,110.5 219.6,110.5 220,110.5 220.4,110.5 220.8,110.5 221.2,110.5 221.6,110.5 222,110.5 222.4,110.5 222.8,110.5 223.2,110.5 223.6,110.5 224,110.5 224.4,110.5 224.8,110.5 225.2,110.5 225.6,110.5 226,110.5 226.4,110.5 226.8,110.5 227.2,110.5 227.6,110.5 228,110.5 228.4,110.5 228.8,110.5 229.2,110.5 229.6,110.5 230,110.5 230.4,110.5 230.8,110.5 231.2,110.5 231.6,110.5 232,110.5 232.4,110.5 232.8,110.5 233.2,110.5 233.6,110.5 234,110.4 234.4,110.4 234.8,110.4 235.2,110.4 235.6,110.4 236,110.4 236.4,110.4 236.8,110.4 237.2,110.4 237.6,110.4 238,110.4 238.4,110.4 238.8,110.4 239.2,110.4 239.6,110.4 240,110.4 240.4,110.4 240.8,110.4 241.2,110.4 241.6,110.4 242,110.4 242.4,110.4 242.8,110.4 243.2,110.4 243.6,110.4 244,110.4 244.4,110.4 244.8,110.4 245.2,110.4 245.6,110.4 246,110.4 246.4,110.4 246.8,110.3 247.2,110.3 247.6,110.3 248,110.3 248.4,110.3 248.8,110.3 249.2,110.3 249.6,110.3 250,110.3 250.4,110.3 250.8,110.3 251.2,110.3 251.6,110.3 252,110.3 252.4,110.3 252.8,110.3 253.2,110.2 253.6,110.2 254,110.2 254.4,110.2 254.8,110.2 255.2,110.2 255.6,110.2 256,110.2 256.4,110.2 256.8,110.2 257.2,110.1 257.6,110.1 258,110.1 258.4,110.1 258.8,110.1 259.2,110.1 259.6,110.1 260,110.1 260.4,110 260.8,110 261.2,110 261.6,110 262,110 262.4,109.9 262.8,109.9 263.2,109.9 263.6,109.9 264,109.8 264.4,109.8 264.8,109.8 265.2,109.8 265.6,109.7 266,109.7 266.4,109.6 266.8,109.6 267.2,109.6 267.6,109.5 268,109.4 268.4,109.4 268.8,109.3 269.2,109.2 269.6,109.1 270,109 270.4,108.9 270.8,108.7 271.2,108.5 271.6,108.3 272,108.1 272.4,107.8 272.8,107.4 273.2,107 273.6,106.5 274,106 274.4,105.4 274.8,104.6 275.2,103.8 275.6,102.9 276,101.8 276.4,100.7 276.8,99.4 277.2,98 277.6,96.6 278,95 278.4,93.3 278.8,91.6 279.2,89.8 279.6,88 280,86.1 280.4,84.4 280.8,82.6 281.2,81.1 281.6,79.6 282,78.4 282.4,77.5 282.8,76.8 283.2,76.5 283.6,76.4 284,76.8 284.4,77.4 284.8,78.4 285.2,79.6 285.6,81 286,82.6 286.4,84.3 286.8,86.1 287.2,87.9 287.6,89.7 288,91.5 288.4,93.2 288.8,94.9 289.2,96.5 289.6,97.9 290,99.3 290.4,100.6 290.8,101.7 291.2,102.7 291.6,103.7 292,104.5 292.4,105.2 292.8,105.8 293.2,106.4 293.6,106.8 294,107.2 294.4,107.6 294.8,107.8 295.2,108.1 295.6,108.3 296,108.5"/>
<polyline fill="none" stroke="#2fc4a8" stroke-width="0.95" points="313.2,108.5 313.6,108.4 314,108.2 314.4,108 314.8,107.8 315.2,107.5 315.6,107.2 316,106.9 316.4,106.5 316.8,106 317.2,105.4 317.6,104.8 318,104 318.4,103.2 318.8,102.2 319.2,101.1 319.6,99.9 320,98.5 320.4,97.1 320.8,95.4 321.2,93.7 321.6,91.8 322,89.8 322.4,87.7 322.8,85.5 323.2,83.3 323.6,81 324,78.8 324.4,76.5 324.8,74.4 325.2,72.4 325.6,70.6 326,69 326.4,67.6 326.8,66.7 327.2,66.1 327.6,65.9 328,66.1 328.4,66.7 328.8,67.7 329.2,69 329.6,70.6 330,72.4 330.4,74.4 330.8,76.6 331.2,78.8 331.6,81.1 332,83.4 332.4,85.6 332.8,87.8 333.2,89.9 333.6,91.9 334,93.8 334.4,95.5 334.8,97.2 335.2,98.6 335.6,100 336,101.2 336.4,102.3 336.8,103.3 337.2,104.1 337.6,104.9 338,105.6 338.4,106.1 338.8,106.6 339.2,107 339.6,107.4 340,107.7 340.4,108 340.8,108.2 341.2,108.4 341.6,108.6 342,108.7 342.4,108.8 342.8,108.9 343.2,109 343.6,109.1 344,109.2 344.4,109.3 344.8,109.3 345.2,109.4 345.6,109.4 346,109.5 346.4,109.5 346.8,109.6 347.2,109.6 347.6,109.6 348,109.7 348.4,109.7 348.8,109.7 349.2,109.8 349.6,109.8 350,109.8 350.4,109.8 350.8,109.9 351.2,109.9 351.6,109.9 352,109.9 352.4,110 352.8,110 353.2,110 353.6,110 354,110 354.4,110 354.8,110.1 355.2,110.1 355.6,110.1 356,110.1 356.4,110.1 356.8,110.1 357.2,110.1 357.6,110.1 358,110.2 358.4,110.2 358.8,110.2 359.2,110.2 359.6,110.2 360,110.2 360.4,110.2 360.8,110.2 361.2,110.2 361.6,110.2 362,110.2 362.4,110.3 362.8,110.3 363.2,110.3 363.6,110.3 364,110.3 364.4,110.3 364.8,110.3 365.2,110.3 365.6,110.3 366,110.3 366.4,110.3 366.8,110.3 367.2,110.3 367.6,110.3 368,110.3 368.4,110.3 368.8,110.3 369.2,110.3 369.6,110.4 370,110.4 370.4,110.4 370.8,110.4 371.2,110.4 371.6,110.4 372,110.4 372.4,110.4 372.8,110.4 373.2,110.4 373.6,110.4 374,110.4 374.4,110.4 374.8,110.4 375.2,110.4 375.6,110.4 376,110.4 376.4,110.4 376.8,110.4 377.2,110.4 377.6,110.4 378,110.4 378.4,110.4 378.8,110.4 379.2,110.4 379.6,110.4 380,110.4 380.4,110.4 380.8,110.4 381.2,110.4 381.6,110.4 382,110.4 382.4,110.4 382.8,110.4 383.2,110.5 383.6,110.5 384,110.5 384.4,110.5 384.8,110.5 385.2,110.5 385.6,110.5 386,110.5 386.4,110.5 386.8,110.5 387.2,110.5 387.6,110.5 388,110.5 388.4,110.5 388.8,110.5 389.2,110.5 389.6,110.5 390,110.5 390.4,110.5 390.8,110.5 391.2,110.5 391.6,110.5 392,110.5 392.4,110.5 392.8,110.5 393.2,110.5 393.6,110.5 394,110.5 394.4,110.5 394.8,110.5 395.2,110.5 395.6,110.5 396,110.5 396.4,110.5 396.8,110.5 397.2,110.5 397.6,110.5 398,110.5 398.4,110.5"/>
<line x1="208.1" y1="155" x2="398.4" y2="155" stroke="#58d2ec" stroke-width="1.7"/>
<polyline fill="none" stroke="#5a62b8" stroke-width="1.0" points="287.2,130.4 287.6,132.1 288,133.8 288.4,135.5 288.8,137.2 289.2,138.8 289.6,140.4 290,141.8 290.4,143.2 290.8,144.4 291.2,145.6 291.6,146.6 292,147.5 292.4,148.4 292.8,149.1 293.2,149.7 293.6,150.3 294,150.8 294.4,151.2 294.8,151.5 295.2,151.8 295.6,152.1 296,152.3 296.4,152.5 296.8,152.6 297.2,152.7 297.6,152.8 298,152.9 298.4,153 298.8,153.1 299.2,153.1 299.6,153.2 300,153.2 300.4,153.2 300.8,153.3 301.2,153.3 301.6,153.3 302,153.3 302.4,153.3 302.8,153.4 303.2,153.4 303.6,153.4 304,153.4 304.4,153.4 304.8,153.4 305.2,153.4 305.6,153.4 306,153.4 306.4,153.4 306.8,153.3 307.2,153.3 307.6,153.3 308,153.3 308.4,153.3 308.8,153.3 309.2,153.2 309.6,153.2 310,153.2 310.4,153.1 310.8,153.1 311.2,153 311.6,153 312,152.9 312.4,152.8 312.8,152.7 313.2,152.6 313.6,152.5 314,152.4 314.4,152.2 314.8,152.1 315.2,151.8 315.6,151.6 316,151.3 316.4,150.9 316.8,150.5 317.2,150 317.6,149.5 318,148.8 318.4,148.1 318.8,147.3 319.2,146.3 319.6,145.2 320,144 320.4,142.7 320.8,141.2 321.2,139.6 321.6,137.9 322,136.1 322.4,134.1 322.8,132 323.2,129.9 323.6,127.7 324,125.4 324.4,123.2 324.8,121"/>
<polyline fill="none" stroke="#5a9de2" stroke-width="0.95" points="208,154.5 208.4,154.5 208.8,154.5 209.2,154.5 209.6,154.5 210,154.5 210.4,154.5 210.8,154.5 211.2,154.5 211.6,154.5 212,154.5 212.4,154.5 212.8,154.5 213.2,154.5 213.6,154.5 214,154.5 214.4,154.5 214.8,154.5 215.2,154.5 215.6,154.5 216,154.5 216.4,154.5 216.8,154.5 217.2,154.5 217.6,154.5 218,154.5 218.4,154.5 218.8,154.5 219.2,154.5 219.6,154.5 220,154.5 220.4,154.5 220.8,154.5 221.2,154.5 221.6,154.5 222,154.5 222.4,154.5 222.8,154.5 223.2,154.5 223.6,154.5 224,154.5 224.4,154.5 224.8,154.5 225.2,154.5 225.6,154.5 226,154.5 226.4,154.5 226.8,154.5 227.2,154.5 227.6,154.5 228,154.5 228.4,154.5 228.8,154.5 229.2,154.5 229.6,154.5 230,154.5 230.4,154.5 230.8,154.5 231.2,154.5 231.6,154.5 232,154.5 232.4,154.5 232.8,154.5 233.2,154.5 233.6,154.5 234,154.5 234.4,154.5 234.8,154.5 235.2,154.5 235.6,154.4 236,154.4 236.4,154.4 236.8,154.4 237.2,154.4 237.6,154.4 238,154.4 238.4,154.4 238.8,154.4 239.2,154.4 239.6,154.4 240,154.4 240.4,154.4 240.8,154.4 241.2,154.4 241.6,154.4 242,154.4 242.4,154.4 242.8,154.4 243.2,154.4 243.6,154.4 244,154.4 244.4,154.4 244.8,154.4 245.2,154.4 245.6,154.4 246,154.4 246.4,154.4 246.8,154.4 247.2,154.4 247.6,154.4 248,154.3 248.4,154.3 248.8,154.3 249.2,154.3 249.6,154.3 250,154.3 250.4,154.3 250.8,154.3 251.2,154.3 251.6,154.3 252,154.3 252.4,154.3 252.8,154.3 253.2,154.3 253.6,154.3 254,154.3 254.4,154.2 254.8,154.2 255.2,154.2 255.6,154.2 256,154.2 256.4,154.2 256.8,154.2 257.2,154.2 257.6,154.2 258,154.2 258.4,154.2 258.8,154.1 259.2,154.1 259.6,154.1 260,154.1 260.4,154.1 260.8,154.1 261.2,154.1 261.6,154 262,154 262.4,154 262.8,154 263.2,154 263.6,153.9 264,153.9 264.4,153.9 264.8,153.9 265.2,153.8 265.6,153.8 266,153.8 266.4,153.7 266.8,153.7 267.2,153.7 267.6,153.6 268,153.6 268.4,153.5 268.8,153.5 269.2,153.4 269.6,153.3 270,153.2 270.4,153.1 270.8,153 271.2,152.9 271.6,152.7 272,152.5 272.4,152.3 272.8,152 273.2,151.7 273.6,151.4 274,151 274.4,150.5 274.8,149.9 275.2,149.3 275.6,148.5 276,147.7 276.4,146.8 276.8,145.7 277.2,144.6 277.6,143.3 278,141.9 278.4,140.5 278.8,138.9 279.2,137.3 279.6,135.6 280,133.9 280.4,132.1 280.8,130.4 281.2,128.8 281.6,127.2 282,125.7 282.4,124.5 282.8,123.4 283.2,122.7 283.6,122.2 284,122 284.4,122.2 284.8,122.6 285.2,123.4 285.6,124.5 286,125.7 286.4,127.1 286.8,128.7 287.2,130.4 287.6,132.1 288,133.8 288.4,135.5 288.8,137.2 289.2,138.8 289.6,140.4 290,141.8 290.4,143.2 290.8,144.4 291.2,145.6 291.6,146.6 292,147.5 292.4,148.4 292.8,149.1 293.2,149.7 293.6,150.3 294,150.8 294.4,151.2 294.8,151.5 295.2,151.8 295.6,152.1 296,152.3 296.4,152.5"/>
<polyline fill="none" stroke="#2fc4a8" stroke-width="0.95" points="313.6,152.5 314,152.4 314.4,152.2 314.8,152.1 315.2,151.8 315.6,151.6 316,151.3 316.4,150.9 316.8,150.5 317.2,150 317.6,149.5 318,148.8 318.4,148.1 318.8,147.3 319.2,146.3 319.6,145.2 320,144 320.4,142.7 320.8,141.2 321.2,139.6 321.6,137.9 322,136.1 322.4,134.1 322.8,132 323.2,129.9 323.6,127.7 324,125.4 324.4,123.2 324.8,121 325.2,118.9 325.6,116.9 326,115.1 326.4,113.5 326.8,112.2 327.2,111.3 327.6,110.7 328,110.5 328.4,110.7 328.8,111.3 329.2,112.2 329.6,113.5 330,115.1 330.4,116.9 330.8,118.9 331.2,121 331.6,123.2 332,125.5 332.4,127.7 332.8,129.9 333.2,132.1 333.6,134.2 334,136.1 334.4,138 334.8,139.7 335.2,141.3 335.6,142.8 336,144.1 336.4,145.4 336.8,146.4 337.2,147.4 337.6,148.2 338,149 338.4,149.6 338.8,150.2 339.2,150.7 339.6,151.1 340,151.4 340.4,151.8 340.8,152 341.2,152.2 341.6,152.4 342,152.6 342.4,152.7 342.8,152.9 343.2,153 343.6,153.1 344,153.1 344.4,153.2 344.8,153.3 345.2,153.3 345.6,153.4 346,153.5 346.4,153.5 346.8,153.5 347.2,153.6 347.6,153.6 348,153.7 348.4,153.7 348.8,153.7 349.2,153.8 349.6,153.8 350,153.8 350.4,153.8 350.8,153.9 351.2,153.9 351.6,153.9 352,153.9 352.4,153.9 352.8,154 353.2,154 353.6,154 354,154 354.4,154 354.8,154 355.2,154.1 355.6,154.1 356,154.1 356.4,154.1 356.8,154.1 357.2,154.1 357.6,154.1 358,154.1 358.4,154.2 358.8,154.2 359.2,154.2 359.6,154.2 360,154.2 360.4,154.2 360.8,154.2 361.2,154.2 361.6,154.2 362,154.2 362.4,154.2 362.8,154.3 363.2,154.3 363.6,154.3 364,154.3 364.4,154.3 364.8,154.3 365.2,154.3 365.6,154.3 366,154.3 366.4,154.3 366.8,154.3 367.2,154.3 367.6,154.3 368,154.3 368.4,154.3 368.8,154.3 369.2,154.3 369.6,154.4 370,154.4 370.4,154.4 370.8,154.4 371.2,154.4 371.6,154.4 372,154.4 372.4,154.4 372.8,154.4 373.2,154.4 373.6,154.4 374,154.4 374.4,154.4 374.8,154.4 375.2,154.4 375.6,154.4 376,154.4 376.4,154.4 376.8,154.4 377.2,154.4 377.6,154.4 378,154.4 378.4,154.4 378.8,154.4 379.2,154.4 379.6,154.4 380,154.4 380.4,154.4 380.8,154.4 381.2,154.4 381.6,154.4 382,154.4 382.4,154.4 382.8,154.5 383.2,154.5 383.6,154.5 384,154.5 384.4,154.5 384.8,154.5 385.2,154.5 385.6,154.5 386,154.5 386.4,154.5 386.8,154.5 387.2,154.5 387.6,154.5 388,154.5 388.4,154.5 388.8,154.5 389.2,154.5 389.6,154.5 390,154.5 390.4,154.5 390.8,154.5 391.2,154.5 391.6,154.5 392,154.5 392.4,154.5 392.8,154.5 393.2,154.5 393.6,154.5 394,154.5 394.4,154.5 394.8,154.5 395.2,154.5 395.6,154.5 396,154.5 396.4,154.5 396.8,154.5 397.2,154.5 397.6,154.5 398,154.5 398.4,154.5"/>
<rect x="207.5" y="11.6" width="191.5" height="154.4" fill="none" stroke="#5a5a5a" stroke-width="1.1"/>
<line x1="219.2" y1="166" x2="219.2" y2="168.6" stroke="#5a5a5a" stroke-width="1"/>
<text x="219.2" y="180.6" font-size="8.6" text-anchor="middle" fill="#141414">92</text>
<line x1="243.1" y1="166" x2="243.1" y2="168.6" stroke="#5a5a5a" stroke-width="1"/>
<text x="243.1" y="180.6" font-size="8.6" text-anchor="middle" fill="#141414">90</text>
<line x1="267" y1="166" x2="267" y2="168.6" stroke="#5a5a5a" stroke-width="1"/>
<text x="267" y="180.6" font-size="8.6" text-anchor="middle" fill="#141414">88</text>
<line x1="290.8" y1="166" x2="290.8" y2="168.6" stroke="#5a5a5a" stroke-width="1"/>
<text x="290.8" y="180.6" font-size="8.6" text-anchor="middle" fill="#141414">86</text>
<line x1="314.7" y1="166" x2="314.7" y2="168.6" stroke="#5a5a5a" stroke-width="1"/>
<text x="314.7" y="180.6" font-size="8.6" text-anchor="middle" fill="#141414">84</text>
<line x1="338.6" y1="166" x2="338.6" y2="168.6" stroke="#5a5a5a" stroke-width="1"/>
<text x="338.6" y="180.6" font-size="8.6" text-anchor="middle" fill="#141414">82</text>
<line x1="362.4" y1="166" x2="362.4" y2="168.6" stroke="#5a5a5a" stroke-width="1"/>
<text x="362.4" y="180.6" font-size="8.6" text-anchor="middle" fill="#141414">80</text>
<line x1="386.3" y1="166" x2="386.3" y2="168.6" stroke="#5a5a5a" stroke-width="1"/>
<text x="386.3" y="180.6" font-size="8.6" text-anchor="middle" fill="#141414">78</text>
<text x="308.7" y="192" font-size="9.6" font-weight="bold" text-anchor="middle" fill="#141414">Binding Energy (eV)</text>
<text x="218.8" y="58.8" class="s" font-size="6.5" font-weight="bold" fill="#141414">H-AuNPs-TNTs</text>
<text x="218.8" y="101.6" class="s" font-size="6.5" font-weight="bold" fill="#141414">M-AuNPs-TNTs</text>
<text x="218.8" y="144" class="s" font-size="6.5" font-weight="bold" fill="#141414">L-AuNPs-TNTs</text>
<text x="352.6" y="59.2" class="s" font-size="6.4" font-weight="bold" fill="#141414">Au: 10.83%</text>
<text x="352.6" y="101.9" class="s" font-size="6.4" font-weight="bold" fill="#141414">Au: 5.52%</text>
<text x="352.6" y="144.2" class="s" font-size="6.4" font-weight="bold" fill="#141414">Au: 2.75%</text>
<text x="290.5" y="31.2" font-size="8.2" font-weight="bold" fill="#141414">Au 4f<tspan font-size="5.4" dy="1.5">5/2</tspan></text>
<text x="341.8" y="31.2" font-size="8.2" font-weight="bold" fill="#141414">Au 4f<tspan font-size="5.4" dy="1.5">7/2</tspan></text>
<text x="205.9" y="7.6" font-size="8.9" font-weight="bold" fill="#141414">B</text>
<path d="M48.6 318.5L49.1 270.4L49.5 318.5" fill="none" stroke="#8fd3ee" stroke-width="1.0" stroke-linejoin="round"/>
<path d="M76.8 318.5L77.2 264.6L77.7 318.5" fill="none" stroke="#8fd3ee" stroke-width="1.0" stroke-linejoin="round"/>
<path d="M81.1 318.5L81.6 232.4L82 318.5" fill="none" stroke="#8fd3ee" stroke-width="1.0" stroke-linejoin="round"/>
<path d="M109.1 318.5L109.5 233.4L110 318.5" fill="none" stroke="#8fd3ee" stroke-width="1.0" stroke-linejoin="round"/>
<path d="M130.7 318.5L131.1 266L131.6 318.5" fill="none" stroke="#8fd3ee" stroke-width="1.0" stroke-linejoin="round"/>
<path d="M147.5 318.5L147.9 215.4L148.4 318.5" fill="none" stroke="#8fd3ee" stroke-width="1.0" stroke-linejoin="round"/>
<path d="M160.1 318.5L160.6 290.8L161 318.5" fill="none" stroke="#8fd3ee" stroke-width="1.0" stroke-linejoin="round"/>
<polyline fill="none" stroke="#22b2ea" stroke-width="0.7" stroke-linejoin="round" points="15.9,320 16,319 16.1,319.3 16.2,320 16.3,318.4 16.4,319.5 16.5,319.6 16.6,317 16.7,321 16.8,320.7 16.9,318.6 17,319.5 17.1,320.5 17.2,319.2 17.3,319.3 17.4,317.5 17.5,320.7 17.6,320.1 17.7,320.4 17.8,317.5 17.9,322.6 18,320.3 18.1,319.5 18.2,323.3 18.3,320.2 18.4,317.8 18.5,319.6 18.6,316.7 18.7,322.1 18.8,319.8 18.9,319.1 19,322.1 19.1,317.8 19.2,321.1 19.3,317.4 19.4,319.5 19.5,318.7 19.6,322.9 19.7,323.3 19.8,319.8 19.9,321.6 20,320.1 20.1,321.2 20.2,319.4 20.3,317.6 20.4,317.8 20.5,320.9 20.5,324 20.6,321 20.7,319.6 20.8,323.4 20.9,320.8 21,320.5 21.1,320.6 21.2,320.2 21.3,319.8 21.4,317.9 21.5,320.9 21.6,320 21.7,321.9 21.8,319.4 21.9,316.9 22,319.8 22.1,322.7 22.2,319.2 22.3,318.4 22.4,317.9 22.5,318.2 22.6,319.3 22.7,317.8 22.8,322.1 22.9,319.3 23,319.6 23.1,321.8 23.2,321.9 23.3,319.3 23.4,320 23.5,320.7 23.6,319.5 23.7,316.6 23.8,320.4 23.9,320.7 24,320 24.1,318.2 24.2,319.3 24.3,318.8 24.4,319.3 24.5,321.6 24.6,322.1 24.7,320.8 24.8,320.4 24.9,320.5 25,319.5 25.1,319.7 25.2,318.7 25.3,319.8 25.4,323.4 25.5,321.1 25.6,319.4 25.7,319.1 25.8,318.5 25.9,320.6 25.9,320.6 26,317.7 26.1,320.8 26.2,319.2 26.3,322.4 26.4,320.4 26.5,323 26.6,319.5 26.7,319.8 26.8,320.7 26.9,322.2 27,321.3 27.1,318.4 27.2,320.9 27.3,320.7 27.4,319.9 27.5,319.7 27.6,323.1 27.7,319.9 27.8,319.3 27.9,321.8 28,320.6 28.1,320.5 28.2,321.6 28.3,321.2 28.4,321.2 28.5,322.2 28.6,320.7 28.7,319.3 28.8,320 28.9,319.6 29,320.7 29.1,318.5 29.2,317.3 29.3,320.3 29.4,318 29.5,317 29.6,320.8 29.7,319 29.8,320.9 29.9,319.2 30,318.2 30.1,318 30.2,319.1 30.3,319.4 30.4,318.6 30.5,319.3 30.6,317.2 30.7,319.8 30.8,316.8 30.9,319.2 31,320.7 31.1,321.3 31.2,322.5 31.2,317.3 31.3,320.7 31.4,321.4 31.5,321.3 31.6,318.3 31.7,320.3 31.8,322.4 31.9,317.2 32,320.2 32.1,321.5 32.2,318.3 32.3,320.6 32.4,317.6 32.5,318.4 32.6,318.5 32.7,319.7 32.8,319.5 32.9,321.2 33,318.3 33.1,319.6 33.2,321.3 33.3,320.7 33.4,317.6 33.5,320.9 33.6,319.1 33.7,320.6 33.8,320.4 33.9,321.9 34,320.2 34.1,317.1 34.2,317.9 34.3,321.3 34.4,319.8 34.5,322.1 34.6,320.6 34.7,318.9 34.8,322 34.9,319 35,316.9 35.1,323.6 35.2,317.3 35.3,321.6 35.4,321.8 35.5,320.9 35.6,318 35.7,322 35.8,318.4 35.9,318.1 36,319.9 36.1,321.6 36.2,320.9 36.3,321.7 36.4,319.9 36.5,320.4 36.5,318.6 36.6,319.9 36.7,321.6 36.8,319.8 36.9,321.1 37,319.5 37.1,319.4 37.2,320.3 37.3,319.9 37.4,321.1 37.5,320.5 37.6,323 37.7,319.8 37.8,319.7 37.9,318.4 38,320 38.1,321.1 38.2,318.8 38.3,319.9 38.4,321 38.5,319.6 38.6,318.8 38.7,321.3 38.8,320 38.9,320.2 39,321.7 39.1,321.6 39.2,319.2 39.3,318.5 39.4,320 39.5,319.1 39.6,316.4 39.7,321.6 39.8,319.4 39.9,320.8 40,317.7 40.1,321.3 40.2,318.5 40.3,319.4 40.4,317.2 40.5,319.1 40.6,319 40.7,319.2 40.8,320.2 40.9,319.8 41,321.2 41.1,318.7 41.2,317.9 41.3,319.8 41.4,320.8 41.5,321.8 41.6,321.1 41.7,317 41.8,320.5 41.8,322.3 41.9,320.1 42,319.2 42.1,320.5 42.2,319.3 42.3,321.1 42.4,320.2 42.5,322.5 42.6,321.1 42.7,319.1 42.8,321.2 42.9,321.9 43,319.3 43.1,319.7 43.2,316.7 43.3,321.7 43.4,319.7 43.5,317.1 43.6,317.7 43.7,320.2 43.8,321.9 43.9,320.2 44,321.1 44.1,318.5 44.2,318.6 44.3,321.9 44.4,321.4 44.5,320.3 44.6,322.7 44.7,318.8 44.8,319.9 44.9,321.8 45,323.5 45.1,320.3 45.2,323.1 45.3,319.4 45.4,320.7 45.5,319.9 45.6,317.6 45.7,320.6 45.8,321.6 45.9,319.8 46,319.9 46.1,322.2 46.2,318 46.3,317.5 46.4,318.8 46.5,317.9 46.6,321.9 46.7,320.2 46.8,318.3 46.9,318.8 47,324.2 47.1,318.8 47.1,318.5 47.2,320.2 47.3,320.6 47.4,319.9 47.5,318.1 47.6,317.7 47.7,320.2 47.8,319.4 47.9,316.6 48,321.1 48.1,320.7 48.2,318.8 48.3,318.8 48.4,319.7 48.5,318.3 48.6,317.3 48.7,319.5 48.8,315.4 48.9,316.1 49,310.9 49.1,312.6 49.2,313.8 49.3,319.4 49.4,316.6 49.5,317.1 49.6,318.7 49.7,318 49.8,319 49.9,320.6 50,321.2 50.1,322.6 50.2,318.8 50.3,324.3 50.4,323.3 50.5,319.8 50.6,316.5 50.7,320 50.8,320.4 50.9,316.5 51,320.6 51.1,320.2 51.2,319.2 51.3,321.3 51.4,322.1 51.5,319.9 51.6,320.9 51.7,319.5 51.8,319 51.9,320.4 52,321.4 52.1,319.6 52.2,317 52.3,321.3 52.4,317.9 52.5,320.9 52.5,323.3 52.6,320.7 52.7,318.4 52.8,318.1 52.9,322.4 53,320.4 53.1,321.4 53.2,321.9 53.3,320.3 53.4,319.7 53.5,318.6 53.6,315.2 53.7,317.7 53.8,320.1 53.9,319.8 54,320.7 54.1,319.8 54.2,320.2 54.3,321.2 54.4,318.4 54.5,319.4 54.6,317.2 54.7,321.2 54.8,319.8 54.9,320.5 55,322.2 55.1,321.4 55.2,319.5 55.3,320.8 55.4,317.2 55.5,320.4 55.6,319.6 55.7,317.2 55.8,321.8 55.9,318.4 56,320.4 56.1,318.9 56.2,320.9 56.3,321.5 56.4,318 56.5,317.2 56.6,319 56.7,320.8 56.8,319.2 56.9,318.4 57,320.4 57.1,315 57.2,318.5 57.3,317.3 57.4,320 57.5,318.5 57.6,317.9 57.7,319.3 57.8,317.4 57.8,319.8 57.9,318.8 58,319.3 58.1,318.8 58.2,321.5 58.3,319.9 58.4,320.9 58.5,321 58.6,318.9 58.7,321 58.8,320.7 58.9,320.7 59,319.7 59.1,319.7 59.2,321.5 59.3,323.9 59.4,319.3 59.5,321.4 59.6,320 59.7,321.7 59.8,321.4 59.9,322 60,316.2 60.1,319.7 60.2,318.9 60.3,320.3 60.4,319.2 60.5,319.2 60.6,321.5 60.7,323.4 60.8,316 60.9,319.9 61,321.1 61.1,320.3 61.2,320 61.3,318.2 61.4,318.7 61.5,321.6 61.6,322 61.7,320.3 61.8,318.9 61.9,320.3 62,319.7 62.1,320.9 62.2,320.2 62.3,319 62.4,320.2 62.5,318 62.6,321.2 62.7,321.7 62.8,317.9 62.9,320.5 63,318.2 63.1,321.3 63.1,321.1 63.2,319.3 63.3,321.2 63.4,318.9 63.5,318.4 63.6,318.4 63.7,319.4 63.8,319.1 63.9,319.8 64,318.3 64.1,320.5 64.2,321.2 64.3,318.5 64.4,317.2 64.5,320.4 64.6,321.3 64.7,319 64.8,317.4 64.9,320.1 65,321.9 65.1,316.7 65.2,320.3 65.3,319.1 65.4,318.4 65.5,320.5 65.6,317.6 65.7,320.3 65.8,322 65.9,320.1 66,318.5 66.1,317.1 66.2,317.9 66.3,317.1 66.4,322.6 66.5,319.7 66.6,318.4 66.7,318.2 66.8,318.5 66.9,319.8 67,318.2 67.1,322.9 67.2,319.3 67.3,319 67.4,320.8 67.5,322.7 67.6,322.5 67.7,319.5 67.8,320.8 67.9,320.6 68,321.4 68.1,321 68.2,319 68.3,318.3 68.4,320.9 68.4,318.7 68.5,322.5 68.6,320.6 68.7,319.1 68.8,320.1 68.9,319.6 69,320.1 69.1,321.8 69.2,317.9 69.3,317.3 69.4,320.8 69.5,320 69.6,320.3 69.7,320.6 69.8,319.1 69.9,319.7 70,315.6 70.1,315.6 70.2,313.3 70.3,312.9 70.4,316.8 70.5,318.2 70.6,315.4 70.7,317.4 70.8,320 70.9,321.4 71,318.6 71.1,319.4 71.2,317.3 71.3,323.6 71.4,320.5 71.5,321 71.6,320.7 71.7,321 71.8,320.5 71.9,319.2 72,320.5 72.1,319.6 72.2,321.3 72.3,318.6 72.4,318.8 72.5,320.8 72.6,321.3 72.7,319.7 72.8,318.2 72.9,319.6 73,318.6 73.1,322.8 73.2,320.9 73.3,321.6 73.4,320 73.5,318.7 73.6,321.6 73.7,322.5 73.8,320.7 73.8,319.7 73.9,321.6 74,319.3 74.1,321.1 74.2,318.8 74.3,318.5 74.4,321 74.5,320.6 74.6,323.2 74.7,319.8 74.8,320.3 74.9,318.3 75,317.2 75.1,317.5 75.2,321.1 75.3,318.7 75.4,322.4 75.5,322.9 75.6,320 75.7,323.2 75.8,321 75.9,322.1 76,320 76.1,321.8 76.2,319.1 76.3,321.8 76.4,319.5 76.5,320.1 76.6,321.3 76.7,320.9 76.8,319.9 76.9,320.3 77,318.6 77.1,312.4 77.2,313.4 77.3,313.9 77.4,313.8 77.5,318 77.6,317.1 77.7,322.1 77.8,319.9 77.9,320 78,322.1 78.1,319.9 78.2,321 78.3,318.3 78.4,319.1 78.5,317.7 78.6,319.6 78.7,321.5 78.8,320.1 78.9,321.2 79,318.2 79.1,318.3 79.1,318.8 79.2,320.7 79.3,320.1 79.4,319.6 79.5,320.5 79.6,319.5 79.7,319.6 79.8,321.7 79.9,318.4 80,319.9 80.1,322.2 80.2,319.5 80.3,320.8 80.4,318.6 80.5,322.6 80.6,316 80.7,317.6 80.8,317.8 80.9,322.3 81,320.3 81.1,318.8 81.2,316.8 81.3,317.9 81.4,314.9 81.5,310.7 81.6,308.2 81.7,310.7 81.8,315.6 81.9,318.5 82,319.3 82.1,319.5 82.2,317.1 82.3,320.1 82.4,318.4 82.5,320.1 82.6,320.9 82.7,319 82.8,318.5 82.9,321.8 83,320.9 83.1,319.2 83.2,315.4 83.3,320.4 83.4,321.2 83.5,322.3 83.6,319.4 83.7,319.6 83.8,319.7 83.9,322 84,318.4 84.1,320.5 84.2,318.9 84.3,320.9 84.4,318.2 84.4,321.2 84.5,319.7 84.6,320 84.7,321.5 84.8,322.3 84.9,317.6 85,322 85.1,321.5 85.2,319.7 85.3,322.6 85.4,320.7 85.5,322.4 85.6,319.3 85.7,318.8 85.8,322.1 85.9,323.6 86,321.2 86.1,321.5 86.2,319.3 86.3,317.9 86.4,319.6 86.5,322.3 86.6,317 86.7,319 86.8,316.8 86.9,320.1 87,321 87.1,317.7 87.2,318.9 87.3,321.9 87.4,319.6 87.5,317.6 87.6,317.3 87.7,316.5 87.8,320.8 87.9,318.2 88,321.2 88.1,320.9 88.2,318.2 88.3,318.6 88.4,320.6 88.5,319.6 88.6,319.7 88.7,316.9 88.8,320.9 88.9,318.3 89,316 89.1,318.4 89.2,320 89.3,323 89.4,318.9 89.5,317.5 89.6,323 89.7,320 89.7,319.4 89.8,318.1 89.9,318.2 90,322.3 90.1,319.4 90.2,319.1 90.3,319.1 90.4,322.5 90.5,319.1 90.6,321.1 90.7,320.6 90.8,320.6 90.9,318.7 91,321.3 91.1,322.9 91.2,320.1 91.3,318.9 91.4,318.4 91.5,320.9 91.6,320 91.7,320 91.8,320.3 91.9,318.3 92,321.6 92.1,320.9 92.2,320.5 92.3,320.9 92.4,322.2 92.5,320.4 92.6,319.2 92.7,322.3 92.8,320 92.9,319.3 93,317.8 93.1,320.4 93.2,318.8 93.3,319.4 93.4,321.3 93.5,320.5 93.6,321.9 93.7,320.8 93.8,319.8 93.9,319.7 94,319.4 94.1,321.2 94.2,320.2 94.3,319.4 94.4,321.4 94.5,320.2 94.6,319.2 94.7,317.5 94.8,320.5 94.9,320.3 95,319.8 95.1,319.2 95.1,318.5 95.2,319.4 95.3,319.9 95.4,319.3 95.5,319.6 95.6,319 95.7,320.1 95.8,320 95.9,318.1 96,320.7 96.1,320.9 96.2,320.7 96.3,319.2 96.4,319 96.5,317.4 96.6,320.7 96.7,315.9 96.8,318.6 96.9,318.9 97,320.8 97.1,319.5 97.2,318.1 97.3,317.4 97.4,318.5 97.5,319.7 97.6,319.4 97.7,318.6 97.8,317.3 97.9,317.3 98,318.2 98.1,313.7 98.2,314.5 98.3,316.3 98.4,314.3 98.5,313.1 98.6,315.7 98.7,314.6 98.8,316.9 98.9,320.5 99,322 99.1,316.7 99.2,321.1 99.3,323.2 99.4,319.3 99.5,320.9 99.6,322.9 99.7,319.4 99.8,321.4 99.9,320.2 100,317.5 100.1,321.3 100.2,320.4 100.3,322 100.4,324.1 100.4,321.7 100.5,319.8 100.6,321.5 100.7,320.9 100.8,322 100.9,318.2 101,318.5 101.1,317.2 101.2,321.4 101.3,320.2 101.4,319.3 101.5,319.1 101.6,319.6 101.7,318.7 101.8,319.8 101.9,319.5 102,322.4 102.1,320.7 102.2,318.8 102.3,319.1 102.4,321.9 102.5,320.7 102.6,320.4 102.7,321.1 102.8,322.4 102.9,318 103,318.6 103.1,316.9 103.2,320.6 103.3,319.2 103.4,318.6 103.5,318.5 103.6,320.8 103.7,319.4 103.8,318.5 103.9,321.7 104,318 104.1,317.4 104.2,323.8 104.3,319.1 104.4,318.8 104.5,318.1 104.6,319 104.7,320.5 104.8,320.8 104.9,320.1 105,319.3 105.1,317.1 105.2,320 105.3,322 105.4,321.1 105.5,319.2 105.6,320.9 105.7,319 105.7,319.5 105.8,317.9 105.9,319.3 106,320.1 106.1,319.5 106.2,321.1 106.3,322.9 106.4,322 106.5,319.5 106.6,318.9 106.7,319 106.8,318.5 106.9,320.3 107,320.9 107.1,320.4 107.2,320.5 107.3,320.6 107.4,320 107.5,319.3 107.6,323.2 107.7,322.2 107.8,319.1 107.9,319 108,319.4 108.1,320.7 108.2,322.5 108.3,322.3 108.4,322 108.5,322.1 108.6,322.3 108.7,321.9 108.8,321.2 108.9,320.4 109,317.3 109.1,319.6 109.2,322.1 109.3,316.4 109.4,313.3 109.5,314.1 109.6,313 109.7,314.4 109.8,320.2 109.9,320.3 110,321.3 110.1,319.1 110.2,321 110.3,320.8 110.4,321.4 110.5,321.9 110.6,321.8 110.7,320.3 110.8,321 110.9,318 111,320.9 111,320.8 111.1,319.2 111.2,318.4 111.3,319.5 111.4,317.6 111.5,320 111.6,320.1 111.7,317.9 111.8,319.6 111.9,321.3 112,321 112.1,321 112.2,319.2 112.3,318.7 112.4,318.8 112.5,320.7 112.6,323.1 112.7,321.6 112.8,321.8 112.9,321.2 113,316.4 113.1,318.1 113.2,317.1 113.3,318.7 113.4,318.6 113.5,313.9 113.6,314.3 113.7,315 113.8,313.9 113.9,314.8 114,316 114.1,319.6 114.2,317.5 114.3,321.2 114.4,319.8 114.5,321 114.6,322.4 114.7,319 114.8,318.8 114.9,320.7 115,318.5 115.1,319 115.2,320.1 115.3,320.6 115.4,318.3 115.5,319.8 115.6,321.4 115.7,322.6 115.8,317.1 115.9,322.7 116,322 116.1,318.8 116.2,318 116.3,321.4 116.4,319.9 116.4,320.6 116.5,321.9 116.6,319.7 116.7,320.5 116.8,321.4 116.9,322.1 117,323.3 117.1,323 117.2,320.8 117.3,319.9 117.4,324.1 117.5,321.2 117.6,321.1 117.7,318.7 117.8,321.6 117.9,319.1 118,319.4 118.1,318.2 118.2,319.4 118.3,320.2 118.4,317.7 118.5,318.6 118.6,319.9 118.7,318 118.8,318 118.9,318.6 119,317.7 119.1,320.8 119.2,318.1 119.3,321.1 119.4,321.1 119.5,317.8 119.6,319.9 119.7,318.7 119.8,317.7 119.9,319.1 120,319.3 120.1,320.7 120.2,321 120.3,317.5 120.4,318.8 120.5,320.6 120.6,321.6 120.7,315.7 120.8,321.4 120.9,319.4 121,321.9 121.1,319.1 121.2,318.3 121.3,319.5 121.4,321.3 121.5,319.8 121.6,316 121.7,320.8 121.7,317.2 121.8,318.2 121.9,317.8 122,316.9 122.1,317.8 122.2,318.3 122.3,318.8 122.4,319.8 122.5,319.4 122.6,317.6 122.7,319.7 122.8,321.6 122.9,321.7 123,320.3 123.1,321.2 123.2,321.7 123.3,322.6 123.4,322.8 123.5,319.9 123.6,319.9 123.7,322.8 123.8,322.9 123.9,323 124,316.5 124.1,320.3 124.2,315.2 124.3,321.8 124.4,320.5 124.5,320.4 124.6,320.2 124.7,322.7 124.8,320.3 124.9,322.2 125,321.3 125.1,321.3 125.2,321.3 125.3,320.6 125.4,318.8 125.5,321.5 125.6,321.5 125.7,320.1 125.8,321.4 125.9,321.6 126,318.1 126.1,320.1 126.2,319.6 126.3,318.7 126.4,320.7 126.5,318.7 126.6,319.4 126.7,320.4 126.8,320.5 126.9,320.4 127,323.4 127,319.1 127.1,320.2 127.2,317.8 127.3,320.5 127.4,321.7 127.5,321.7 127.6,318.5 127.7,319.2 127.8,321.7 127.9,319.2 128,321.1 128.1,318.1 128.2,321.7 128.3,321.3 128.4,320.2 128.5,318.1 128.6,319.4 128.7,319.8 128.8,319.9 128.9,319.5 129,319 129.1,319.7 129.2,321.9 129.3,316.3 129.4,317.3 129.5,317.2 129.6,318.4 129.7,316.9 129.8,320.6 129.9,319.9 130,319.3 130.1,318.8 130.2,320 130.3,320.2 130.4,320.4 130.5,318.7 130.6,320.9 130.7,317.2 130.8,320.6 130.9,311.8 131,313.2 131.1,310.3 131.2,314.1 131.3,312.8 131.4,320.5 131.5,316.8 131.6,323.2 131.7,320.9 131.8,320.4 131.9,321.1 132,323.9 132.1,321.7 132.2,316.9 132.3,322.6 132.3,320.8 132.4,318 132.5,321.6 132.6,318.7 132.7,320.9 132.8,321.1 132.9,319.2 133,321.6 133.1,318.8 133.2,320.7 133.3,319.5 133.4,320.4 133.5,323.4 133.6,320.6 133.7,318.4 133.8,320.3 133.9,319.2 134,320.4 134.1,320.5 134.2,320.3 134.3,320.3 134.4,319.3 134.5,320.8 134.6,321.8 134.7,319 134.8,319.9 134.9,320.1 135,321.9 135.1,321.6 135.2,318.7 135.3,319.8 135.4,317.3 135.5,318.1 135.6,319.8 135.7,320.8 135.8,321.2 135.9,319 136,317.6 136.1,320.2 136.2,319.3 136.3,320.1 136.4,319.7 136.5,320.8 136.6,320.6 136.7,320.7 136.8,318.5 136.9,321.1 137,318.5 137.1,319.8 137.2,322.5 137.3,320 137.4,317.9 137.5,321.9 137.6,321 137.6,321.5 137.7,320.1 137.8,320.1 137.9,319.2 138,318.7 138.1,322.2 138.2,319.2 138.3,319.1 138.4,319.1 138.5,322.9 138.6,321.3 138.7,319.4 138.8,319.9 138.9,320.9 139,321.5 139.1,317.6 139.2,321.5 139.3,319.9 139.4,319.1 139.5,319.7 139.6,321.7 139.7,323.2 139.8,320.4 139.9,321.1 140,319.3 140.1,321.2 140.2,321.9 140.3,318.1 140.4,319.8 140.5,321.5 140.6,317.7 140.7,320.1 140.8,321.4 140.9,317.9 141,320.1 141.1,320.8 141.2,321.8 141.3,318.7 141.4,322.3 141.5,320.8 141.6,322.5 141.7,322.2 141.8,320.9 141.9,321.1 142,317.5 142.1,318 142.2,318.7 142.3,319.7 142.4,321.6 142.5,317.4 142.6,319.5 142.7,317.9 142.8,317.5 142.9,322.4 143,320.1 143,322.6 143.1,321.8 143.2,318.4 143.3,316.8 143.4,323.2 143.5,319.1 143.6,317.7 143.7,320.7 143.8,319.9 143.9,318.7 144,318.8 144.1,320 144.2,319.7 144.3,320.8 144.4,318.8 144.5,318.9 144.6,320.2 144.7,319.7 144.8,321.1 144.9,319.1 145,319.3 145.1,317.4 145.2,321.8 145.3,317.2 145.4,319.6 145.5,318.2 145.6,320 145.7,320.7 145.8,317 145.9,319.2 146,317 146.1,322.1 146.2,318.9 146.3,317.1 146.4,318.7 146.5,322 146.6,322.3 146.7,321.9 146.8,318.7 146.9,319.8 147,322.7 147.1,318.9 147.2,319.6 147.3,318.6 147.4,318.3 147.5,321.7 147.6,319.9 147.7,317.6 147.8,314.7 147.9,313.4 148,314.4 148.1,314.2 148.2,316.7 148.3,317.4 148.3,321.8 148.4,319.7 148.5,317.9 148.6,320.3 148.7,320.4 148.8,321.9 148.9,321.9 149,319.2 149.1,319.4 149.2,319.9 149.3,318.7 149.4,320.5 149.5,321.2 149.6,320.3 149.7,318 149.8,318.7 149.9,322.3 150,318.6 150.1,321.6 150.2,321.3 150.3,319.7 150.4,318.5 150.5,320.5 150.6,318.8 150.7,319.8 150.8,320.2 150.9,318.9 151,319.6 151.1,319.4 151.2,317.9 151.3,319.6 151.4,318.7 151.5,316.7 151.6,319.2 151.7,319.3 151.8,318.6 151.9,316.5 152,321 152.1,320.6 152.2,320.6 152.3,320 152.4,317.8 152.5,319.5 152.6,317.9 152.7,323.2 152.8,318.6 152.9,320.3 153,317.1 153.1,317.3 153.2,318.4 153.3,320.4 153.4,320.4 153.5,320 153.6,316.6 153.6,321.2 153.7,318.3 153.8,322.2 153.9,322.6 154,320.8 154.1,321.2 154.2,317.7 154.3,323.9 154.4,320.1 154.5,321.4 154.6,318.5 154.7,319.8 154.8,318.1 154.9,319.6 155,320.1 155.1,320.5 155.2,322.3 155.3,320.9 155.4,320.5 155.5,320.2 155.6,323.6 155.7,319.2 155.8,322.3 155.9,317.2 156,318.9 156.1,321.1 156.2,320.2 156.3,325.5 156.4,324.8 156.5,318 156.6,318.7 156.7,320.3 156.8,323.1 156.9,322.4 157,320.8 157.1,318.1 157.2,319.3 157.3,316.4 157.4,318 157.5,321.4 157.6,321.6 157.7,318.3 157.8,320.6 157.9,323 158,320.7 158.1,319.7 158.2,321.4 158.3,321 158.4,320.3 158.5,319.3 158.6,319.5 158.7,320.2 158.8,319.3 158.9,322.2 158.9,321.4 159,321.7 159.1,323.2 159.2,322.5 159.3,322.1 159.4,320.4 159.5,319.4 159.6,323.3 159.7,318.6 159.8,318.8 159.9,318.3 160,319.9 160.1,320 160.2,320.1 160.3,316.2 160.4,311.3 160.5,313.1 160.6,314.4 160.7,315 160.8,317.3 160.9,319.3 161,321.8 161.1,319.4 161.2,317.5 161.3,318.6 161.4,319.2 161.5,316.8 161.6,320.6 161.7,318.5 161.8,320.2 161.9,319.7 162,319.1 162.1,321.8 162.2,317.6 162.3,316.3 162.4,317 162.5,317.1 162.6,316.1 162.7,315.2 162.8,319.1 162.9,319.9 163,322.9 163.1,319.5 163.2,320.4 163.3,319.2 163.4,317.7 163.5,320.2 163.6,321.6 163.7,318.7 163.8,319.1 163.9,318.4 164,322.7 164.1,319.3 164.2,321.3 164.3,318.9 164.3,320.3 164.4,319.5 164.5,316.6 164.6,320.8 164.7,321.2 164.8,317.1 164.9,320.3 165,319.9 165.1,318.7 165.2,320.2 165.3,317.4 165.4,321.1 165.5,322.5 165.6,318.6 165.7,320.2 165.8,322.5 165.9,320.4 166,319.5 166.1,318.8 166.2,320.5 166.3,320 166.4,321.2 166.5,317.7 166.6,321.8 166.7,319.5 166.8,321.1 166.9,318.9 167,317.9 167.1,319.1 167.2,318.4 167.3,319.3 167.4,320.8 167.5,321.6 167.6,320.1 167.7,318.8 167.8,318.9 167.9,320.6 168,321.6 168.1,318.9 168.2,319.2 168.3,318.2 168.4,320 168.5,321 168.6,314.7 168.7,319.9 168.8,318.4 168.9,315.7 169,320.3 169.1,319.5 169.2,319.8 169.3,317 169.4,322.7 169.5,319.8 169.6,319.1 169.6,321.9 169.7,320.8 169.8,320.7 169.9,321.5 170,316.2 170.1,322.3 170.2,319.2 170.3,320.1 170.4,321.3 170.5,318.7 170.6,320.4 170.7,321.1 170.8,319.8 170.9,320.7 171,317.4 171.1,318.1 171.2,318.2 171.3,320.7 171.4,326.1 171.5,320.6 171.6,320.1 171.7,320.2 171.8,321.8 171.9,321.6 172,318.7 172.1,322.1 172.2,320.3 172.3,321.9 172.4,317.4 172.5,318 172.6,321.2 172.7,317.1 172.8,320.2 172.9,319.6 173,318.6 173.1,318.4 173.2,318.1 173.3,318.2 173.4,317.2 173.5,318.5 173.6,324.1 173.7,321.4 173.8,321 173.9,320.8 174,319 174.1,320.9 174.2,319.9 174.3,322 174.4,318.8 174.5,316.6 174.6,319.2 174.7,321.3 174.8,324 174.9,321.8 174.9,318.5 175,319.7 175.1,318.5 175.2,319.7 175.3,318.4 175.4,317.2 175.5,320.5 175.6,320 175.7,319.4 175.8,320.4 175.9,323 176,319.9 176.1,318.8 176.2,321.2 176.3,316.8 176.4,321 176.5,318.5 176.6,318.3 176.7,319.7 176.8,321.9 176.9,318.1 177,321.1 177.1,319.8 177.2,317.5 177.3,321.2 177.4,318.2 177.5,317.2 177.6,318.1 177.7,318.6 177.8,320.3 177.9,318.5 178,321.9 178.1,320.2 178.2,318.4 178.3,318.2 178.4,320.1 178.5,316.4 178.6,316.2 178.7,318.3 178.8,320.8 178.9,320.1 179,320 179.1,319.6 179.2,316.5 179.3,319.6 179.4,317.2 179.5,321.5 179.6,320.1 179.7,320.1 179.8,320.8 179.9,320.8 180,320.8 180.1,320.9 180.2,319.5 180.2,318.3 180.3,320.8 180.4,322.9 180.5,322 180.6,320.1 180.7,321.5 180.8,319.7 180.9,321 181,319.4 181.1,320.8 181.2,323.9 181.3,321.6 181.4,323 181.5,319.1 181.6,319.5 181.7,320.3 181.8,321.3 181.9,320.2 182,322 182.1,319.5 182.2,322.4 182.3,322 182.4,318.4 182.5,321.2 182.6,319.8 182.7,321.9 182.8,319.3 182.9,320.6 183,320.9 183.1,315.6 183.2,317 183.3,320.1 183.4,319.7 183.5,321.5 183.6,320.1 183.7,317.7 183.8,320.4 183.9,318.6 184,319.4 184.1,318.7 184.2,320.2 184.3,317.3 184.4,317.6 184.5,316 184.6,323.2 184.7,318.1 184.8,318.3 184.9,317.6 185,318.4 185.1,318.9 185.2,320.6 185.3,320 185.4,320.2 185.5,318.5 185.6,319.2 185.6,321.5 185.7,319.4 185.8,320.1 185.9,316.5 186,320.6 186.1,319.9 186.2,321.6 186.3,315.1 186.4,319.8 186.5,319.5 186.6,319.9 186.7,318.8 186.8,320.1 186.9,321 187,320 187.1,319.5 187.2,319.7 187.3,319.4 187.4,320.2 187.5,319 187.6,317 187.7,322.4 187.8,317.3 187.9,319.9 188,318.2 188.1,319.9 188.2,318.9 188.3,320.4 188.4,318.9 188.5,318.4 188.6,320.9 188.7,322.4 188.8,321 188.9,320.8 189,318.6 189.1,320.6 189.2,321 189.3,319.2 189.4,321.8 189.5,320.5 189.6,321.1 189.7,319.8 189.8,319.5"/>
<rect x="15.5" y="198.6" width="174.5" height="140.4" fill="none" stroke="#5a5a5a" stroke-width="1.1"/>
<line x1="37.3" y1="339" x2="37.3" y2="341.2" stroke="#5a5a5a" stroke-width="1"/>
<text x="37.3" y="350.9" font-size="8.6" text-anchor="middle" fill="#141414">20</text>
<line x1="59.1" y1="339" x2="59.1" y2="341.2" stroke="#5a5a5a" stroke-width="1"/>
<line x1="80.9" y1="339" x2="80.9" y2="341.2" stroke="#5a5a5a" stroke-width="1"/>
<text x="80.9" y="350.9" font-size="8.6" text-anchor="middle" fill="#141414">40</text>
<line x1="102.8" y1="339" x2="102.8" y2="341.2" stroke="#5a5a5a" stroke-width="1"/>
<line x1="124.6" y1="339" x2="124.6" y2="341.2" stroke="#5a5a5a" stroke-width="1"/>
<text x="124.6" y="350.9" font-size="8.6" text-anchor="middle" fill="#141414">60</text>
<line x1="146.4" y1="339" x2="146.4" y2="341.2" stroke="#5a5a5a" stroke-width="1"/>
<line x1="168.2" y1="339" x2="168.2" y2="341.2" stroke="#5a5a5a" stroke-width="1"/>
<text x="168.2" y="350.9" font-size="8.6" text-anchor="middle" fill="#141414">80</text>
<text x="103.7" y="360" font-size="9.6" font-weight="bold" text-anchor="middle" fill="#141414">2 theta (in degree)</text>
<text transform="translate(10.8,261.2) rotate(-90)" font-size="10.1" font-weight="bold" text-anchor="middle" fill="#141414">Intensity (a.u.)</text>
<text x="43.9" y="209.4" font-size="8.2" font-weight="bold" fill="#141414">H-AuNPs-TNTs</text>
<circle cx="49.1" cy="265.2" r="2.4" fill="#c8141c"/>
<circle cx="77.1" cy="260.4" r="2.4" fill="#c8141c"/>
<circle cx="159" cy="205" r="2.4" fill="#c8141c"/>
<path d="M84.8 310.8L90.4 310.8L87.6 316Z" fill="#111"/>
<path d="M131.4 310.8L137 310.8L134.2 316Z" fill="#111"/>
<path d="M162.1 310.8L167.7 310.8L164.9 316Z" fill="#111"/>
<path d="M156.7 212.4L162.3 212.4L159.5 217.6Z" fill="#111"/>
<text x="163.2" y="207.5" class="s" font-size="6.6" font-weight="bold" fill="#141414">Anatace</text>
<text x="163.4" y="217.6" class="s" font-size="6.6" font-weight="bold" fill="#141414">Au</text>
<text x="1.2" y="198.9" font-size="9.1" font-weight="bold" fill="#141414">C</text>
<polyline fill="none" stroke="#a36ee0" stroke-width="0.9" stroke-linejoin="round" points="220.5,323.4 221.2,323.1 221.9,322.9 222.6,322 223.3,322.7 224,322.6 224.7,322.4 225.4,322.8 226.1,322.9 226.8,322.6 227.5,322.5 228.2,322.2 228.9,323.2 229.6,321.3 230.3,322 231,322.2 231.7,320.9 232.4,320.7 233.1,320.5 233.8,319.8 234.5,321.1 235.2,320 235.9,319.3 236.6,319.3 237.3,319.4 238,318.9 238.7,318.3 239.4,318.7 240.1,317.7 240.8,317.7 241.5,317.6 242.2,316.8 242.9,316.9 243.6,316.1 244.3,317.6 245,315.8 245.7,316.3 246.4,315.3 247.1,315.1 247.8,315.5 248.5,315.6 249.2,315.9 249.9,316.5 250.6,317.3 251.3,318.2 252,318.5 252.7,317.6 253.4,318.7 254.1,318.7 254.8,317.5 255.5,317.7 256.2,318.3 256.9,319.8 257.6,319 258.3,319.3 259,320.5 259.7,320 260.4,320.4 261.1,321 261.8,320.9 262.5,319.7 263.2,320.5 263.9,321.7 264.6,320.8 265.3,322.4 266,322 266.7,322.5 267.4,321.8 268.1,319.9 268.8,319.8 269.5,318.8 270.2,318.7 270.9,318.4 271.6,316.4 272.3,315.5 273,313.3 273.7,313.1 274.4,312 275.1,310.7 275.8,309.8 276.5,308.9 277.2,306.8 277.9,305.9 278.6,304 279.3,304.4 280,303.4 280.7,301.6 281.4,302 282.1,300.7 282.8,300.8 283.5,299.7 284.2,298.8 284.9,299 285.6,297.3 286.3,296.5 287,295.9 287.7,295.3 288.4,294 289.1,294.6 289.8,294.4 290.5,293.7 291.2,292.9 291.9,294.2 292.6,294.1 293.3,293.7 294,293.7 294.7,294.1 295.4,293.2 296.1,293.9 296.8,292.9 297.5,292.4 298.2,292.8 298.9,292.6 299.6,293 300.3,293.7 301,292.8 301.7,293.1 302.4,294 303.1,294 303.8,293.4 304.5,293.2 305.2,295 305.9,293.5 306.6,293.3 307.3,293.5 308,295.5 308.7,294.4 309.4,295.5 310.1,296 310.8,297.2 311.5,296.2 312.2,297.4 312.9,297.9 313.6,298.3 314.3,296.7 315,296.3 315.7,295.2 316.4,295.3 317.1,295 317.8,294.3 318.5,294.8 319.2,293.6 319.9,294.4 320.6,293.9 321.3,294.1 322,294.8 322.7,295.8 323.4,295.1 324.1,295.2 324.8,295.5 325.5,296.4 326.2,296.3 326.9,297.3 327.6,297.9 328.3,297.8 329,297.6 329.7,298.6 330.4,298.2 331.1,298 331.8,300 332.5,300.8 333.2,300.9 333.9,300.3 334.6,299.1 335.3,300.9 336,302.1 336.7,301.9 337.4,303.3 338.1,302.5 338.8,303.6 339.5,303.9 340.2,304.3 340.9,303.8 341.6,304.9 342.3,305.4 343,305.4 343.7,305.3 344.4,306.1 345.1,306.2 345.8,307.2 346.5,307.9 347.2,307.9 347.9,308.3 348.6,308.4 349.3,308.9 350,308.1 350.7,309.6 351.4,310.4 352.1,310.1 352.8,311.2 353.5,310.5 354.2,311.8 354.9,312.1 355.6,313 356.3,313.2 357,314.8 357.7,312.3 358.4,313.7 359.1,314.6 359.8,315.5 360.5,315.6 361.2,316 361.9,316 362.6,316.6 363.3,317.3 364,319.1 364.7,318.3 365.4,320.7 366.1,320.2 366.8,320 367.5,321 368.2,321.6 368.9,320.9 369.6,321.1 370.3,323.3 371,322.4 371.7,323.5 372.4,323.6 373.1,322.4 373.8,323.9 374.5,324 375.2,324.5 375.9,324 376.6,324.4 377.3,324.5 378,324.3 378.7,325.4 379.4,325 380.1,325.4 380.8,324.7 381.5,325.2 382.2,324 382.9,324.2 383.6,325.1 384.3,324.5 385,324.4 385.7,324.7 386.4,323.8 387.1,324.8 387.8,325 388.5,324.6 389.2,324.3 389.9,326 390.6,325.3 391.3,324.6 392,324.9"/>
<polyline fill="none" stroke="#f2b13b" stroke-width="0.9" stroke-linejoin="round" points="220.5,323 221.2,322.5 221.9,322.1 222.6,322.3 223.3,322.7 224,323 224.7,322.6 225.4,323.3 226.1,323.1 226.8,322.4 227.5,322.5 228.2,323 228.9,323.1 229.6,323.2 230.3,321.9 231,321.5 231.7,323 232.4,321.3 233.1,321.4 233.8,320.4 234.5,319.1 235.2,319.7 235.9,317.5 236.6,316.2 237.3,314 238,311.9 238.7,311 239.4,310.2 240.1,307.5 240.8,305.3 241.5,303.1 242.2,298.7 242.9,295.9 243.6,292.9 244.3,289.8 245,285.3 245.7,281.8 246.4,279.4 247.1,276.6 247.8,276.5 248.5,278.2 249.2,279.7 249.9,282.7 250.6,285.3 251.3,286.7 252,290.4 252.7,292.9 253.4,295.6 254.1,298.4 254.8,301.3 255.5,303.1 256.2,305.2 256.9,306.9 257.6,309.6 258.3,310.7 259,311.4 259.7,312.9 260.4,314.5 261.1,316.1 261.8,316.5 262.5,318.6 263.2,318.8 263.9,319.6 264.6,320.2 265.3,320.8 266,321.2 266.7,322.3 267.4,321.7 268.1,321.2 268.8,321.3 269.5,320.9 270.2,319.4 270.9,318.4 271.6,316.2 272.3,314.3 273,314 273.7,312.9 274.4,312.2 275.1,311.4 275.8,306.8 276.5,303.4 277.2,299.3 277.9,295 278.6,291.3 279.3,287.2 280,285.5 280.7,282.2 281.4,279.6 282.1,278.9 282.8,277.3 283.5,275.4 284.2,273.3 284.9,272.6 285.6,270.8 286.3,270.2 287,268.6 287.7,268.1 288.4,268.8 289.1,267.4 289.8,267 290.5,267.8 291.2,267.2 291.9,265.7 292.6,267.1 293.3,266.3 294,267 294.7,267.5 295.4,269 296.1,268.3 296.8,269.1 297.5,269 298.2,269.8 298.9,269.4 299.6,270.7 300.3,270.9 301,271.2 301.7,272.4 302.4,273.3 303.1,273.6 303.8,273.7 304.5,274.8 305.2,274.4 305.9,275.7 306.6,276.3 307.3,276.5 308,277 308.7,277.7 309.4,277.9 310.1,278.6 310.8,279.6 311.5,278.8 312.2,280.8 312.9,280.9 313.6,281.2 314.3,281.1 315,281.8 315.7,282.2 316.4,283.2 317.1,283.7 317.8,284.4 318.5,284.4 319.2,283.9 319.9,285 320.6,285.9 321.3,286.8 322,286.5 322.7,287.6 323.4,288.3 324.1,288.5 324.8,289.2 325.5,290.9 326.2,290.3 326.9,291.8 327.6,291.4 328.3,291.4 329,292.5 329.7,292.5 330.4,293.1 331.1,292.4 331.8,294.2 332.5,294.2 333.2,295.5 333.9,295.4 334.6,295.6 335.3,295.7 336,296.7 336.7,296.9 337.4,297.2 338.1,298.9 338.8,298.4 339.5,299.3 340.2,300.1 340.9,300 341.6,300.6 342.3,301 343,301.7 343.7,301.9 344.4,302.3 345.1,302.6 345.8,302.8 346.5,303.3 347.2,303.6 347.9,304.5 348.6,305.5 349.3,304.8 350,305.4 350.7,305.7 351.4,306.7 352.1,307.7 352.8,307.5 353.5,308.3 354.2,307.5 354.9,309.1 355.6,309.9 356.3,309.8 357,309.8 357.7,311.4 358.4,311.6 359.1,313 359.8,312.3 360.5,313 361.2,313.4 361.9,314.2 362.6,313.7 363.3,315.7 364,315.8 364.7,315.9 365.4,316.3 366.1,317.2 366.8,317.6 367.5,317.7 368.2,318.3 368.9,319 369.6,319.1 370.3,319.6 371,320 371.7,320.5 372.4,320.5 373.1,320.8 373.8,321.5 374.5,321.8 375.2,321.5 375.9,319.8 376.6,320.9 377.3,321.9 378,322.6 378.7,322.5 379.4,321.8 380.1,321.8 380.8,321.6 381.5,322.5 382.2,321.6 382.9,320.9 383.6,321.7 384.3,321.5 385,319.9 385.7,320.5 386.4,321.1 387.1,321 387.8,320 388.5,320.6 389.2,321.1 389.9,320.9 390.6,320.3 391.3,320.8 392,321.3"/>
<polyline fill="none" stroke="#e0783a" stroke-width="0.9" stroke-linejoin="round" points="220.5,324 221.2,322.8 221.9,323.9 222.6,322.3 223.3,321.2 224,321.9 224.7,320.8 225.4,321.9 226.1,322.4 226.8,323.7 227.5,322.7 228.2,322.8 228.9,323.1 229.6,322.9 230.3,322.6 231,323.7 231.7,322.8 232.4,322.8 233.1,322.1 233.8,320.7 234.5,320.5 235.2,320 235.9,319.2 236.6,318.5 237.3,317.1 238,315.6 238.7,315.4 239.4,314 240.1,312 240.8,310 241.5,308.3 242.2,306.5 242.9,305.4 243.6,304.3 244.3,303.8 245,301.9 245.7,300 246.4,297.7 247.1,296.7 247.8,296.5 248.5,297.4 249.2,298.8 249.9,302 250.6,302.4 251.3,303.2 252,305.1 252.7,305.4 253.4,306.3 254.1,307.7 254.8,307.6 255.5,307.8 256.2,309.5 256.9,310.2 257.6,309.8 258.3,311.3 259,313.1 259.7,313.9 260.4,315.3 261.1,315.8 261.8,316.5 262.5,317.5 263.2,318.6 263.9,319.8 264.6,319.4 265.3,320.7 266,322.2 266.7,322.9 267.4,321.5 268.1,321.1 268.8,319.8 269.5,318.9 270.2,318.7 270.9,317.2 271.6,315.5 272.3,313.7 273,312.9 273.7,311.4 274.4,309.9 275.1,306.2 275.8,302.3 276.5,299 277.2,295.2 277.9,292.1 278.6,288.2 279.3,283.6 280,279.2 280.7,276.2 281.4,271.7 282.1,269.7 282.8,266.1 283.5,264.5 284.2,263.4 284.9,260.5 285.6,259.6 286.3,258.6 287,257.1 287.7,256.7 288.4,254.9 289.1,254.2 289.8,255 290.5,253.6 291.2,253.6 291.9,252.6 292.6,253.6 293.3,252.2 294,252 294.7,251.8 295.4,251.7 296.1,251.6 296.8,252.3 297.5,252.4 298.2,252.8 298.9,252.5 299.6,252.8 300.3,253.1 301,253.1 301.7,252.6 302.4,252.9 303.1,252.7 303.8,253.2 304.5,252.9 305.2,252.9 305.9,253.7 306.6,253.5 307.3,255.1 308,255.1 308.7,255.3 309.4,256.3 310.1,256.1 310.8,257.9 311.5,257.5 312.2,257 312.9,257.6 313.6,258.2 314.3,258.6 315,259.4 315.7,260 316.4,260.4 317.1,260.5 317.8,260 318.5,261.5 319.2,262.2 319.9,261.2 320.6,262.5 321.3,263.2 322,263.6 322.7,265.1 323.4,265.5 324.1,265.9 324.8,265.9 325.5,266.2 326.2,267.5 326.9,268.2 327.6,268.9 328.3,269 329,270 329.7,271.2 330.4,272.3 331.1,272.5 331.8,273.5 332.5,274.5 333.2,275.3 333.9,276.8 334.6,276.7 335.3,278.1 336,278.2 336.7,280.3 337.4,280.9 338.1,281.9 338.8,282.4 339.5,283.1 340.2,283.5 340.9,285.2 341.6,286.6 342.3,285.5 343,288.6 343.7,288.3 344.4,289.8 345.1,290.1 345.8,291.3 346.5,292.7 347.2,293.1 347.9,295 348.6,294.9 349.3,296 350,296.1 350.7,296.9 351.4,297.8 352.1,299 352.8,300.3 353.5,300.3 354.2,300.4 354.9,301.5 355.6,301.9 356.3,303.6 357,304.2 357.7,304.5 358.4,305.7 359.1,307.2 359.8,307.8 360.5,308.1 361.2,309.6 361.9,310.3 362.6,310.7 363.3,311.9 364,313.6 364.7,312.9 365.4,314.8 366.1,315.1 366.8,316.3 367.5,317.1 368.2,317.8 368.9,318.5 369.6,319.4 370.3,320.6 371,321.3 371.7,321.2 372.4,323 373.1,323.5 373.8,323.3 374.5,323 375.2,322 375.9,323.2 376.6,323.2 377.3,323.6 378,322.4 378.7,322.8 379.4,322.6 380.1,322.7 380.8,321.8 381.5,322.2 382.2,322.1 382.9,321.9 383.6,322.7 384.3,321.4 385,321.3 385.7,321.9 386.4,320.9 387.1,321.6 387.8,321.3 388.5,320.8 389.2,320.9 389.9,321.4 390.6,321.3 391.3,321.5 392,321.2"/>
<polyline fill="none" stroke="#3fc4e2" stroke-width="0.9" stroke-linejoin="round" points="220.5,324 221.2,323 221.9,322.5 222.6,322.1 223.3,321.6 224,322.6 224.7,323.2 225.4,323.4 226.1,324 226.8,326 227.5,326 228.2,325.3 228.9,324.4 229.6,324.5 230.3,323.1 231,322 231.7,322.5 232.4,321.6 233.1,321.7 233.8,321.1 234.5,321.3 235.2,319.9 235.9,317.7 236.6,316.8 237.3,315.7 238,312.8 238.7,312.3 239.4,310.8 240.1,309.7 240.8,307 241.5,304.5 242.2,302.6 242.9,298.9 243.6,295.4 244.3,293.1 245,289.2 245.7,285.2 246.4,280.7 247.1,277.2 247.8,274.7 248.5,277.1 249.2,280.5 249.9,283.8 250.6,287.4 251.3,289.9 252,292.8 252.7,295.5 253.4,298.1 254.1,300.9 254.8,304.2 255.5,305.2 256.2,307.7 256.9,309.2 257.6,311.4 258.3,311.8 259,312.9 259.7,313.6 260.4,314.6 261.1,315.6 261.8,316.5 262.5,317.4 263.2,319.6 263.9,320 264.6,321.3 265.3,321.6 266,320.9 266.7,321.5 267.4,319.8 268.1,318.5 268.8,317 269.5,315 270.2,312.8 270.9,310.7 271.6,307 272.3,303 273,299.4 273.7,295.6 274.4,289.3 275.1,281.6 275.8,274.6 276.5,267.7 277.2,260.5 277.9,255.7 278.6,251.7 279.3,247.4 280,243.2 280.7,238.7 281.4,235.6 282.1,231.2 282.8,226.4 283.5,223.4 284.2,221 284.9,218.7 285.6,217.2 286.3,214.6 287,214 287.7,211.3 288.4,209.9 289.1,209.8 289.8,210.2 290.5,208.7 291.2,208.5 291.9,207 292.6,207.7 293.3,206.5 294,206.5 294.7,207 295.4,206.6 296.1,207.2 296.8,207.1 297.5,207.3 298.2,207.7 298.9,208.2 299.6,207.9 300.3,207.9 301,207.6 301.7,207.5 302.4,208.4 303.1,209 303.8,209.8 304.5,210.7 305.2,211.3 305.9,211.3 306.6,212.4 307.3,212.9 308,213.3 308.7,213.1 309.4,214.3 310.1,215.2 310.8,216.1 311.5,216.2 312.2,216.4 312.9,218.1 313.6,218.1 314.3,218.5 315,219.5 315.7,220.2 316.4,220.7 317.1,222 317.8,223.4 318.5,224.9 319.2,225.2 319.9,226.2 320.6,225.9 321.3,227.2 322,227.9 322.7,228.6 323.4,228.7 324.1,230 324.8,231.6 325.5,231.9 326.2,232.5 326.9,233.3 327.6,233.9 328.3,235.4 329,235.9 329.7,236.9 330.4,238.3 331.1,239.2 331.8,240.1 332.5,240.2 333.2,241.7 333.9,243.5 334.6,243.5 335.3,245.6 336,246.1 336.7,247.6 337.4,248.3 338.1,249.1 338.8,250.4 339.5,252.6 340.2,253 340.9,253.9 341.6,255.8 342.3,256.1 343,257.8 343.7,259.1 344.4,260.3 345.1,261.5 345.8,262.4 346.5,262.8 347.2,265.3 347.9,266.6 348.6,268 349.3,269.6 350,271.2 350.7,272.4 351.4,274.3 352.1,276 352.8,276.7 353.5,277.9 354.2,279 354.9,281.1 355.6,281.6 356.3,284.6 357,285.9 357.7,286.9 358.4,289 359.1,290 359.8,291.6 360.5,293.9 361.2,294.8 361.9,297 362.6,298.4 363.3,300.7 364,301.9 364.7,304 365.4,305.3 366.1,306.3 366.8,307.8 367.5,309.1 368.2,311.6 368.9,312.1 369.6,314.6 370.3,315.6 371,317.9 371.7,319.5 372.4,320 373.1,321.2 373.8,322.3 374.5,323.7 375.2,323.7 375.9,324.8 376.6,325.2 377.3,325.2 378,325.7 378.7,327 379.4,327.3 380.1,327.5 380.8,327.1 381.5,327.5 382.2,327.3 382.9,327.3 383.6,328 384.3,328.1 385,328.1 385.7,328.5 386.4,329.5 387.1,329.5 387.8,329.4 388.5,331.2 389.2,330 389.9,331.1 390.6,330.7 391.3,331.6 392,331.5"/>
<rect x="220" y="198.4" width="173.2" height="139.2" fill="none" stroke="#5a5a5a" stroke-width="1.1"/>
<line x1="220" y1="337.6" x2="220" y2="339.8" stroke="#5a5a5a" stroke-width="1"/>
<text x="220" y="350.6" font-size="8.6" text-anchor="middle" fill="#141414">450</text>
<line x1="241.7" y1="337.6" x2="241.7" y2="339.8" stroke="#5a5a5a" stroke-width="1"/>
<line x1="263.3" y1="337.6" x2="263.3" y2="339.8" stroke="#5a5a5a" stroke-width="1"/>
<text x="263.3" y="350.6" font-size="8.6" text-anchor="middle" fill="#141414">500</text>
<line x1="284.9" y1="337.6" x2="284.9" y2="339.8" stroke="#5a5a5a" stroke-width="1"/>
<line x1="306.6" y1="337.6" x2="306.6" y2="339.8" stroke="#5a5a5a" stroke-width="1"/>
<text x="306.6" y="350.6" font-size="8.6" text-anchor="middle" fill="#141414">550</text>
<line x1="328.2" y1="337.6" x2="328.2" y2="339.8" stroke="#5a5a5a" stroke-width="1"/>
<line x1="349.9" y1="337.6" x2="349.9" y2="339.8" stroke="#5a5a5a" stroke-width="1"/>
<text x="349.9" y="350.6" font-size="8.6" text-anchor="middle" fill="#141414">600</text>
<line x1="371.5" y1="337.6" x2="371.5" y2="339.8" stroke="#5a5a5a" stroke-width="1"/>
<line x1="393.2" y1="337.6" x2="393.2" y2="339.8" stroke="#5a5a5a" stroke-width="1"/>
<text x="393.2" y="350.6" font-size="8.6" text-anchor="middle" fill="#141414">650</text>
<text x="306.6" y="360" font-size="9.5" font-weight="bold" text-anchor="middle" fill="#141414">Wavelength (nm)</text>
<text transform="translate(215.7,262) rotate(-90)" font-size="10.1" font-weight="bold" text-anchor="middle" fill="#141414">Intensity (a.u.)</text>
<line x1="327.6" y1="203.6" x2="334.8" y2="203.6" stroke="#5fcde6" stroke-width="1.3"/>
<text x="342.2" y="205.7" class="s" font-size="5.9" font-weight="bold" fill="#141414">H-AuNPs-TNTs</text>
<line x1="327.6" y1="212.2" x2="334.8" y2="212.2" stroke="#e0783a" stroke-width="1.3"/>
<text x="342.6" y="214.3" class="s" font-size="5.9" font-weight="bold" fill="#141414">M-AuNPs-TNTs</text>
<line x1="327.6" y1="220.5" x2="334.8" y2="220.5" stroke="#f2b13b" stroke-width="1.3"/>
<text x="343.4" y="222.6" class="s" font-size="5.9" font-weight="bold" fill="#141414">L-AuNPs-TNTs</text>
<line x1="327.6" y1="228.6" x2="334.8" y2="228.6" stroke="#b070e0" stroke-width="1.3"/>
<text x="342.8" y="230.7" class="s" font-size="5.9" font-weight="bold" fill="#141414">TNTs</text>
<text x="206.6" y="198.7" font-size="9.1" font-weight="bold" fill="#141414">D</text>
</svg>
</body></html>
